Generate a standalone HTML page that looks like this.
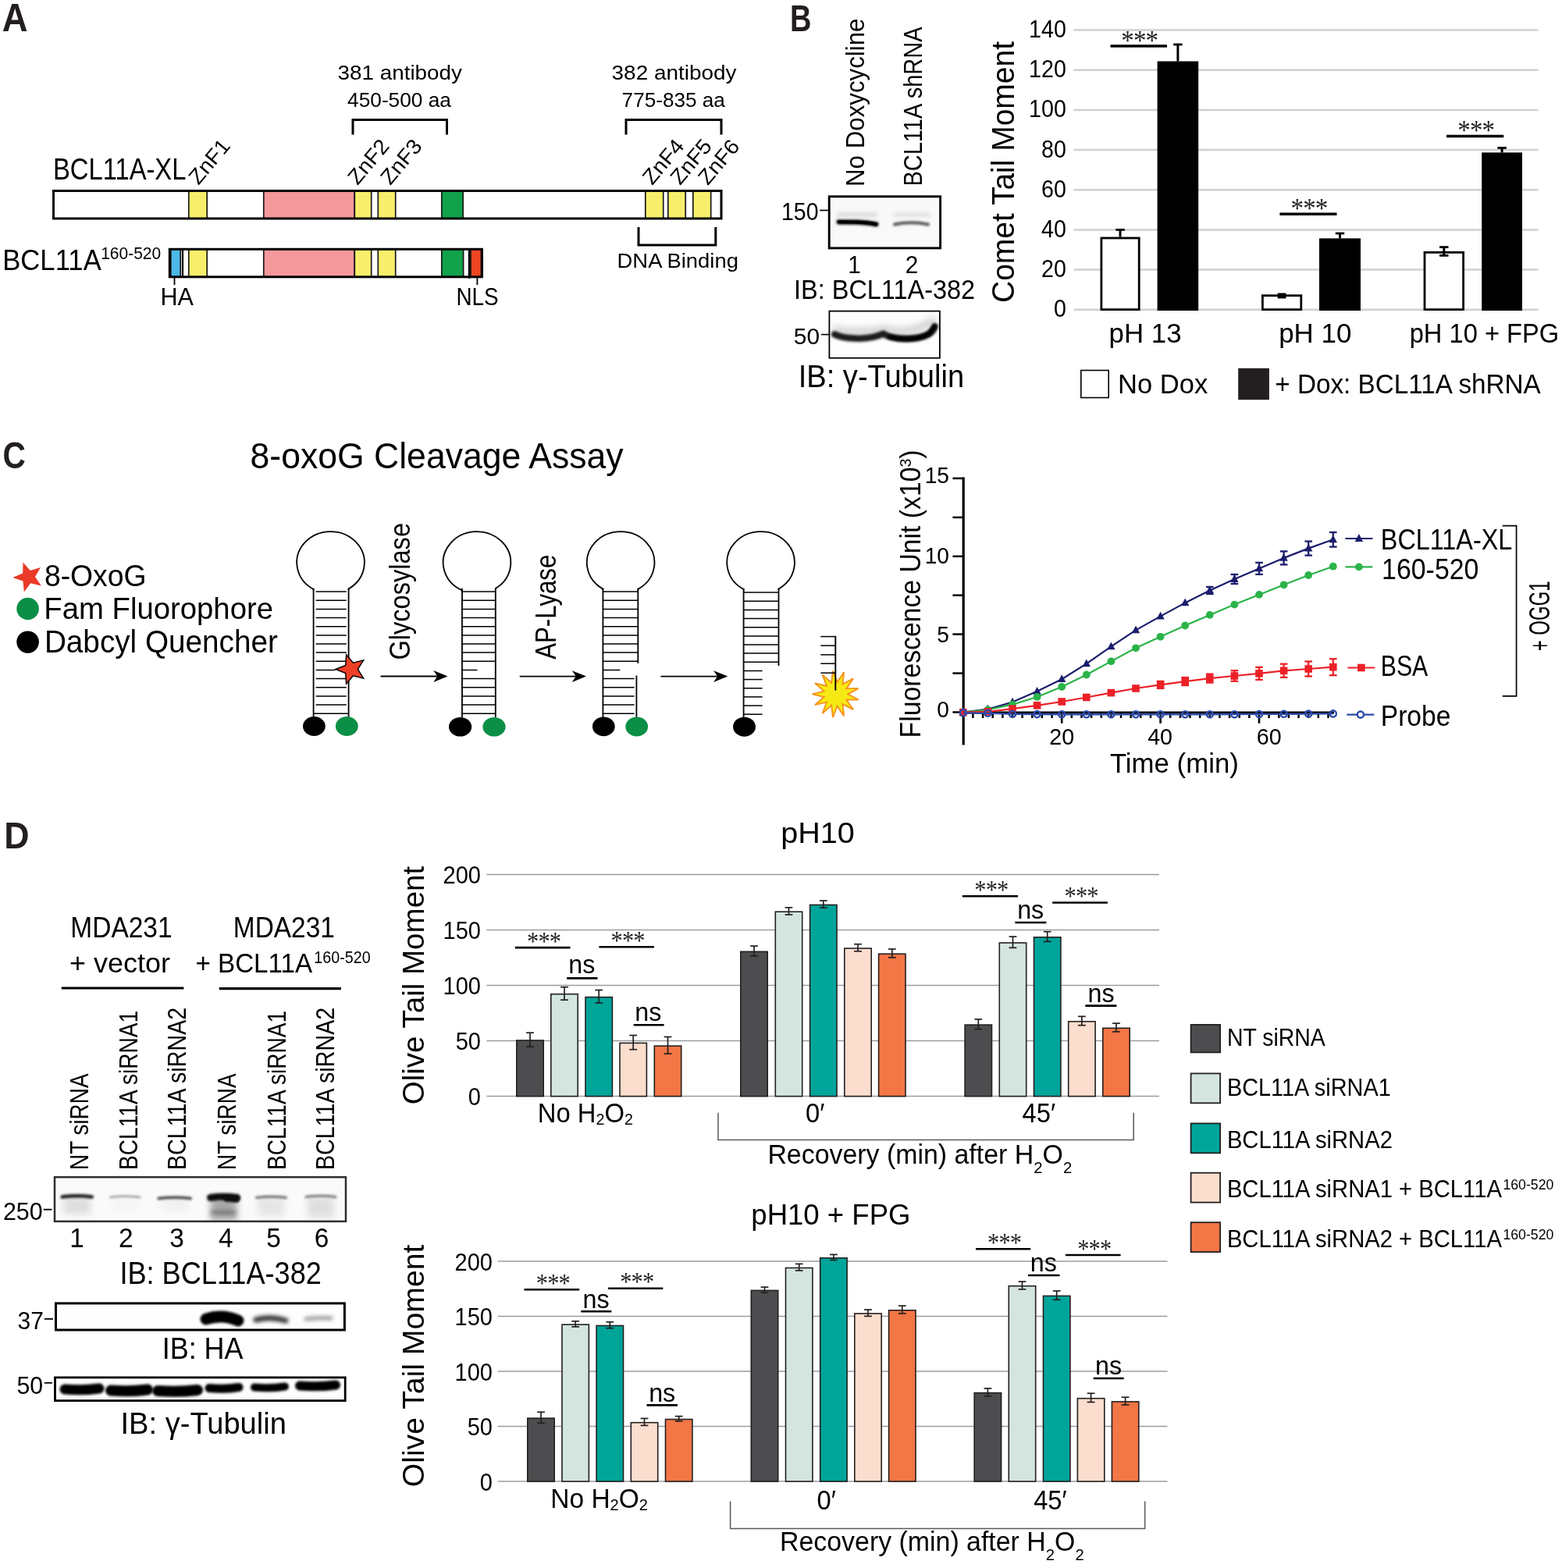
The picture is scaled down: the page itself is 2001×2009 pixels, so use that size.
<!DOCTYPE html>
<html lang="en"><head><meta charset="utf-8"><title>Figure</title>
<style>html,body{margin:0;padding:0;background:#fff}svg{display:block}text{font-family:"Liberation Sans",sans-serif}text.st{font-family:"Liberation Serif",serif}</style></head><body>
<svg width="2001" height="2009" viewBox="0 0 2001 2009">
<rect width="2001" height="2009" fill="#fff"/>
<g id="secA">
<text x="2.7" y="40.2" font-size="49.3" font-weight="bold" fill="#231f20" textLength="32.8" lengthAdjust="spacingAndGlyphs">A</text>
<text x="432.6" y="102.0" font-size="26.1" fill="#000" textLength="159.3" lengthAdjust="spacingAndGlyphs">381 antibody</text>
<text x="445.1" y="136.5" font-size="26.1" fill="#000" textLength="132.8" lengthAdjust="spacingAndGlyphs">450-500 aa</text>
<polyline points="452.0,172.5 452.0,153.5 572.5,153.5 572.5,172.5" fill="none" stroke="#000" stroke-width="3"/>
<text x="783.6" y="102.0" font-size="26.1" fill="#000" textLength="159.8" lengthAdjust="spacingAndGlyphs">382 antibody</text>
<text x="796.6" y="136.5" font-size="26.1" fill="#000" textLength="132.3" lengthAdjust="spacingAndGlyphs">775-835 aa</text>
<polyline points="802.0,172.5 802.0,153.5 924.0,153.5 924.0,172.5" fill="none" stroke="#000" stroke-width="3"/>
<rect x="68.5" y="244.5" width="855.5" height="35.5" fill="#fff" stroke="none" stroke-width="1"/>
<rect x="241.8" y="244.5" width="23.4" height="35.5" fill="#f7ef6b" stroke="#1a1718" stroke-width="1.7"/>
<rect x="337.8" y="244.5" width="116.5" height="35.5" fill="#f4989c" stroke="#1a1718" stroke-width="1.7"/>
<rect x="454.3" y="244.5" width="21.4" height="35.5" fill="#f7ef6b" stroke="#1a1718" stroke-width="1.7"/>
<rect x="484.3" y="244.5" width="22.4" height="35.5" fill="#f7ef6b" stroke="#1a1718" stroke-width="1.7"/>
<rect x="565.8" y="244.5" width="27.4" height="35.5" fill="#12a24b" stroke="#1a1718" stroke-width="1.7"/>
<rect x="826.8" y="244.5" width="22.9" height="35.5" fill="#f7ef6b" stroke="#1a1718" stroke-width="1.7"/>
<rect x="855.8" y="244.5" width="22.4" height="35.5" fill="#f7ef6b" stroke="#1a1718" stroke-width="1.7"/>
<rect x="887.8" y="244.5" width="22.9" height="35.5" fill="#f7ef6b" stroke="#1a1718" stroke-width="1.7"/>
<rect x="68.5" y="244.5" width="855.5" height="35.5" fill="none" stroke="#000" stroke-width="3"/>
<rect x="217.5" y="319.3" width="399.5" height="35.5" fill="#fff" stroke="none" stroke-width="1"/>
<rect x="218.8" y="319.3" width="12.4" height="35.5" fill="#4cb8e8" stroke="#1a1718" stroke-width="1.7"/>
<line x1="234.0" y1="319.3" x2="234.0" y2="354.8" stroke="#000" stroke-width="2.2" stroke-linecap="butt"/>
<rect x="241.8" y="319.3" width="23.4" height="35.5" fill="#f7ef6b" stroke="#1a1718" stroke-width="1.7"/>
<rect x="337.8" y="319.3" width="116.5" height="35.5" fill="#f4989c" stroke="#1a1718" stroke-width="1.7"/>
<rect x="454.3" y="319.3" width="21.4" height="35.5" fill="#f7ef6b" stroke="#1a1718" stroke-width="1.7"/>
<rect x="484.3" y="319.3" width="22.4" height="35.5" fill="#f7ef6b" stroke="#1a1718" stroke-width="1.7"/>
<rect x="565.8" y="319.3" width="27.8" height="35.5" fill="#12a24b" stroke="#1a1718" stroke-width="1.7"/>
<rect x="603.0" y="319.3" width="13.4" height="35.5" fill="#ee4623" stroke="#1a1718" stroke-width="1.7"/>
<line x1="601.2" y1="319.3" x2="601.2" y2="356.8" stroke="#000" stroke-width="2.8" stroke-linecap="butt"/>
<rect x="217.3" y="319.3" width="400.2" height="35.5" fill="none" stroke="#000" stroke-width="3"/>
<text x="68.0" y="230.2" font-size="38.0" fill="#000" textLength="170.4" lengthAdjust="spacingAndGlyphs">BCL11A-XL</text>
<text x="3.2" y="345.8" font-size="37.7" fill="#000" textLength="126.6" lengthAdjust="spacingAndGlyphs">BCL11A</text>
<text x="129.2" y="331.8" font-size="21.7" fill="#000" textLength="77.0" lengthAdjust="spacingAndGlyphs">160-520</text>
<line x1="223.5" y1="356.0" x2="223.5" y2="365.0" stroke="#000" stroke-width="1.8" stroke-linecap="butt"/>
<line x1="611.4" y1="356.0" x2="611.4" y2="365.0" stroke="#000" stroke-width="1.8" stroke-linecap="butt"/>
<text x="205.4" y="391.0" font-size="31.9" fill="#000" textLength="42.5" lengthAdjust="spacingAndGlyphs">HA</text>
<text x="584.4" y="391.0" font-size="31.9" fill="#000" textLength="54.2" lengthAdjust="spacingAndGlyphs">NLS</text>
<polyline points="818.0,291.0 818.0,314.0 916.8,314.0 916.8,291.0" fill="none" stroke="#000" stroke-width="3"/>
<text x="790.6" y="343.0" font-size="26.1" fill="#000" textLength="155.3" lengthAdjust="spacingAndGlyphs">DNA Binding</text>
<text transform="translate(254.3,238.0) rotate(-50)" font-size="27.2" textLength="65.5" lengthAdjust="spacingAndGlyphs">ZnF1</text>
<text transform="translate(458.0,238.2) rotate(-50)" font-size="27.2" textLength="65.5" lengthAdjust="spacingAndGlyphs">ZnF2</text>
<text transform="translate(500.0,238.2) rotate(-50)" font-size="27.2" textLength="65.5" lengthAdjust="spacingAndGlyphs">ZnF3</text>
<text transform="translate(835.6,238.2) rotate(-50)" font-size="27.2" textLength="65.5" lengthAdjust="spacingAndGlyphs">ZnF4</text>
<text transform="translate(871.3,238.2) rotate(-50)" font-size="27.2" textLength="65.5" lengthAdjust="spacingAndGlyphs">ZnF5</text>
<text transform="translate(906.7,238.5) rotate(-50)" font-size="27.2" textLength="65.5" lengthAdjust="spacingAndGlyphs">ZnF6</text>
</g>
<g id="secB">
<text x="1011.9" y="40.0" font-size="48.7" font-weight="bold" fill="#231f20" textLength="27.5" lengthAdjust="spacingAndGlyphs">B</text>
<text transform="translate(1107.0,239.0) rotate(-90)" font-size="33.3" fill="#000" textLength="215.5" lengthAdjust="spacingAndGlyphs">No Doxycycline</text>
<text transform="translate(1181.0,238.5) rotate(-90)" font-size="32.8" fill="#000" textLength="204.0" lengthAdjust="spacingAndGlyphs">BCL11A shRNA</text>
<clipPath id="cb1"><rect x="1062" y="251.5" width="142.5" height="66"/></clipPath>
<rect x="1062.0" y="251.5" width="142.5" height="66.0" fill="#f9f9f9" stroke="none" stroke-width="1"/>
<filter id="fa1" filterUnits="userSpaceOnUse" x="1040" y="230" width="190" height="110"><feGaussianBlur stdDeviation="0.7"/></filter>
<filter id="fa2" filterUnits="userSpaceOnUse" x="1040" y="230" width="190" height="110"><feGaussianBlur stdDeviation="1.5"/></filter>
<filter id="fa3" filterUnits="userSpaceOnUse" x="1040" y="230" width="190" height="110"><feGaussianBlur stdDeviation="2.5"/></filter>
<filter id="fa4" filterUnits="userSpaceOnUse" x="1040" y="230" width="190" height="110"><feGaussianBlur stdDeviation="4"/></filter>
<g clip-path="url(#cb1)">
<path d="M1074.5,284.3 L1098,284.6 Q1113,285.3 1122.5,287.4" stroke="#000" stroke-width="6.2" fill="none" stroke-linecap="round" filter="url(#fa2)"/>
<path d="M1075,284.3 L1098,284.6 Q1113,285.3 1122,287.4" stroke="#000" stroke-width="4" fill="none" stroke-linecap="round" filter="url(#fa1)"/>
<path d="M1146,287.5 Q1167,283 1189,287.5" stroke="#555" stroke-width="4" fill="none" stroke-linecap="round" filter="url(#fa2)"/>
<rect x="1072" y="272" width="52" height="6" fill="#ddd" filter="url(#fa3)"/>
<rect x="1144" y="272" width="48" height="6" fill="#e2e2e2" filter="url(#fa3)"/>
</g>
<rect x="1062.2" y="251.8" width="142.4" height="66.1" fill="none" stroke="#000" stroke-width="2.9"/>
<text x="1001.0" y="282.4" font-size="30.7" fill="#000" textLength="47.5" lengthAdjust="spacingAndGlyphs">150</text>
<line x1="1050.0" y1="269.5" x2="1061.0" y2="269.5" stroke="#000" stroke-width="1.7" stroke-linecap="butt"/>
<text transform="translate(1094.6,350.2) scale(0.95,1)" font-size="31.3" fill="#000" text-anchor="middle">1</text>
<text transform="translate(1168.0,350.2) scale(0.95,1)" font-size="31.3" fill="#000" text-anchor="middle">2</text>
<text x="1017.1" y="382.9" font-size="35.7" fill="#000" textLength="232.0" lengthAdjust="spacingAndGlyphs">IB: BCL11A-382</text>
<clipPath id="cb2"><rect x="1062.4" y="398.6" width="141.5" height="60"/></clipPath>
<rect x="1062.4" y="398.6" width="141.6" height="60.1" fill="#fdfdfd" stroke="none" stroke-width="1"/>
<filter id="fb1" filterUnits="userSpaceOnUse" x="1040" y="380" width="190" height="100"><feGaussianBlur stdDeviation="0.7"/></filter>
<filter id="fb2" filterUnits="userSpaceOnUse" x="1040" y="380" width="190" height="100"><feGaussianBlur stdDeviation="1.5"/></filter>
<filter id="fb3" filterUnits="userSpaceOnUse" x="1040" y="380" width="190" height="100"><feGaussianBlur stdDeviation="2.5"/></filter>
<filter id="fb4" filterUnits="userSpaceOnUse" x="1040" y="380" width="190" height="100"><feGaussianBlur stdDeviation="4"/></filter>
<g clip-path="url(#cb2)">
<path d="M1068,421 C1085,426 1115,426 1131,421 C1150,427 1180,425 1198,408" stroke="#ccc" stroke-width="8" fill="none" filter="url(#fb4)"/>
<path d="M1069,428.3 C1078,433.5 1110,437.5 1131.4,427.6 C1146,436.5 1176,435.5 1189.6,428 C1194,425.5 1196.5,422 1197.6,418" stroke="#1c1c1c" stroke-width="8.5" fill="none" stroke-linecap="round" stroke-linejoin="round" filter="url(#fb2)"/>
<path d="M1140,431.5 C1155,436 1178,435 1190,428 L1197,419" stroke="#000" stroke-width="6" fill="none" stroke-linecap="round" filter="url(#fb2)"/>
</g>
<rect x="1062.4" y="398.6" width="141.5" height="60.1" fill="none" stroke="#000" stroke-width="1.8"/>
<text x="1016.8" y="440.6" font-size="30.1" fill="#000" textLength="33.2" lengthAdjust="spacingAndGlyphs">50</text>
<line x1="1051.9" y1="428.6" x2="1062.0" y2="428.6" stroke="#000" stroke-width="1.6" stroke-linecap="butt"/>
<text x="1022.7" y="496.0" font-size="39.9" fill="#000" textLength="212.4" lengthAdjust="spacingAndGlyphs">IB: γ-Tubulin</text>
<text transform="translate(1299.0,388.0) rotate(-90)" font-size="40.9" fill="#000" textLength="335.0" lengthAdjust="spacingAndGlyphs">Comet Tail Moment</text>
<line x1="1375.5" y1="396.7" x2="1970.6" y2="396.7" stroke="#d0d0d0" stroke-width="2.5" stroke-linecap="butt"/>
<text transform="translate(1366,406.1) scale(0.92,1)" font-size="31.2" text-anchor="end">0</text>
<line x1="1375.5" y1="345.5" x2="1970.6" y2="345.5" stroke="#d0d0d0" stroke-width="2.5" stroke-linecap="butt"/>
<text transform="translate(1366,354.9) scale(0.92,1)" font-size="31.2" text-anchor="end">20</text>
<line x1="1375.5" y1="294.4" x2="1970.6" y2="294.4" stroke="#d0d0d0" stroke-width="2.5" stroke-linecap="butt"/>
<text transform="translate(1366,303.8) scale(0.92,1)" font-size="31.2" text-anchor="end">40</text>
<line x1="1375.5" y1="243.2" x2="1970.6" y2="243.2" stroke="#d0d0d0" stroke-width="2.5" stroke-linecap="butt"/>
<text transform="translate(1366,252.6) scale(0.92,1)" font-size="31.2" text-anchor="end">60</text>
<line x1="1375.5" y1="192.1" x2="1970.6" y2="192.1" stroke="#d0d0d0" stroke-width="2.5" stroke-linecap="butt"/>
<text transform="translate(1366,201.5) scale(0.92,1)" font-size="31.2" text-anchor="end">80</text>
<line x1="1375.5" y1="140.9" x2="1970.6" y2="140.9" stroke="#d0d0d0" stroke-width="2.5" stroke-linecap="butt"/>
<text transform="translate(1366,150.3) scale(0.92,1)" font-size="31.2" text-anchor="end">100</text>
<line x1="1375.5" y1="89.7" x2="1970.6" y2="89.7" stroke="#d0d0d0" stroke-width="2.5" stroke-linecap="butt"/>
<text transform="translate(1366,99.1) scale(0.92,1)" font-size="31.2" text-anchor="end">120</text>
<line x1="1375.5" y1="38.6" x2="1970.6" y2="38.6" stroke="#d0d0d0" stroke-width="2.5" stroke-linecap="butt"/>
<text transform="translate(1366,48.0) scale(0.92,1)" font-size="31.2" text-anchor="end">140</text>
<rect x="1410.9" y="305.0" width="48.3" height="91.6" fill="#fff" stroke="#000" stroke-width="2.8"/>
<line x1="1435.0" y1="303.6" x2="1435.0" y2="294.4" stroke="#000" stroke-width="3" stroke-linecap="butt"/>
<line x1="1429.3" y1="294.4" x2="1440.8" y2="294.4" stroke="#000" stroke-width="2.8" stroke-linecap="butt"/>
<rect x="1482.6" y="78.5" width="52.6" height="319.5" fill="#000" stroke="none" stroke-width="1"/>
<line x1="1508.9" y1="78.5" x2="1508.9" y2="57.0" stroke="#000" stroke-width="3" stroke-linecap="butt"/>
<line x1="1503.2" y1="57.0" x2="1514.6" y2="57.0" stroke="#000" stroke-width="2.8" stroke-linecap="butt"/>
<rect x="1617.4" y="378.7" width="49.4" height="17.9" fill="#fff" stroke="#000" stroke-width="2.8"/>
<rect x="1636.7" y="375.5" width="10.8" height="6.9" fill="#000" stroke="none" stroke-width="1"/>
<rect x="1690.0" y="305.4" width="53.0" height="92.6" fill="#000" stroke="none" stroke-width="1"/>
<line x1="1716.5" y1="305.4" x2="1716.5" y2="299.0" stroke="#000" stroke-width="3" stroke-linecap="butt"/>
<line x1="1710.8" y1="299.0" x2="1722.2" y2="299.0" stroke="#000" stroke-width="2.8" stroke-linecap="butt"/>
<rect x="1825.0" y="323.4" width="49.6" height="73.2" fill="#fff" stroke="#000" stroke-width="2.8"/>
<line x1="1849.8" y1="327.4" x2="1849.8" y2="316.6" stroke="#000" stroke-width="3" stroke-linecap="butt"/>
<line x1="1844.1" y1="316.6" x2="1855.5" y2="316.6" stroke="#000" stroke-width="2.8" stroke-linecap="butt"/>
<line x1="1844.1" y1="327.4" x2="1855.5" y2="327.4" stroke="#000" stroke-width="2.8" stroke-linecap="butt"/>
<rect x="1898.2" y="195.4" width="51.8" height="202.6" fill="#000" stroke="none" stroke-width="1"/>
<line x1="1924.1" y1="195.4" x2="1924.1" y2="189.5" stroke="#000" stroke-width="3" stroke-linecap="butt"/>
<line x1="1918.4" y1="189.5" x2="1929.8" y2="189.5" stroke="#000" stroke-width="2.8" stroke-linecap="butt"/>
<line x1="1422.5" y1="59.0" x2="1495.0" y2="59.0" stroke="#000" stroke-width="3.4" stroke-linecap="butt"/>
<text transform="translate(1459.8,63.8) scale(0.92,1.0)" class="st" font-size="36" text-anchor="middle" fill="#231f20" letter-spacing="-1">***</text>
<line x1="1639.4" y1="274.2" x2="1712.5" y2="274.2" stroke="#000" stroke-width="3.4" stroke-linecap="butt"/>
<text transform="translate(1677.0,279.0) scale(0.92,1.0)" class="st" font-size="36" text-anchor="middle" fill="#231f20" letter-spacing="-1">***</text>
<line x1="1853.0" y1="174.5" x2="1926.3" y2="174.5" stroke="#000" stroke-width="3.4" stroke-linecap="butt"/>
<text transform="translate(1890.7,179.3) scale(0.92,1.0)" class="st" font-size="36" text-anchor="middle" fill="#231f20" letter-spacing="-1">***</text>
<text x="1420.6" y="439.2" font-size="35.5" fill="#000" textLength="93.0" lengthAdjust="spacingAndGlyphs">pH 13</text>
<text x="1638.2" y="439.2" font-size="35.5" fill="#000" textLength="93.1" lengthAdjust="spacingAndGlyphs">pH 10</text>
<text x="1805.7" y="439.2" font-size="35.5" fill="#000" textLength="191.6" lengthAdjust="spacingAndGlyphs">pH 10 + FPG</text>
<rect x="1384.8" y="474.5" width="35.4" height="35.0" fill="#fff" stroke="#000" stroke-width="1.6"/>
<text x="1432.1" y="504.3" font-size="35.1" fill="#000" textLength="115.2" lengthAdjust="spacingAndGlyphs">No Dox</text>
<rect x="1586.2" y="471.8" width="39.7" height="40.4" fill="#231f20" stroke="none" stroke-width="1"/>
<text x="1633.3" y="504.3" font-size="35.1" fill="#000" textLength="340.5" lengthAdjust="spacingAndGlyphs">+ Dox: BCL11A shRNA</text>
</g>
<g id="secC">
<text x="3.5" y="599.6" font-size="47.8" font-weight="bold" fill="#231f20" textLength="29.3" lengthAdjust="spacingAndGlyphs">C</text>
<text x="320.6" y="599.5" font-size="47.1" fill="#000" textLength="477.9" lengthAdjust="spacingAndGlyphs">8-oxoG Cleavage Assay</text>
<polygon points="16.3,739.9 29.2,734.4 29.5,720.4 38.7,730.9 52.1,726.9 44.9,738.9 52.9,750.4 39.2,747.3 30.8,758.4 29.5,744.5" fill="#ea3a28" stroke="none" stroke-width="1"/>
<text x="56.9" y="750.6" font-size="39.3" fill="#000" textLength="130.7" lengthAdjust="spacingAndGlyphs">8-OxoG</text>
<ellipse cx="35.6" cy="780" rx="14.3" ry="14.2" fill="#0b8f47"/>
<text x="56.3" y="792.9" font-size="39.4" fill="#000" textLength="293.7" lengthAdjust="spacingAndGlyphs">Fam Fluorophore</text>
<ellipse cx="35.6" cy="822.6" rx="14.3" ry="14.2" fill="#000"/>
<text x="56.9" y="835.9" font-size="39.9" fill="#000" textLength="299.0" lengthAdjust="spacingAndGlyphs">Dabcyl Quencher</text>
<path d="M401.6,756.5 L401.6,755.0 A43.3,39.7 0 1 1 446.6,754.4 L446.6,755.9" fill="none" stroke="#000" stroke-width="1.8"/>
<line x1="401.6" y1="753.8" x2="401.6" y2="919.0" stroke="#000" stroke-width="1.8" stroke-linecap="butt"/>
<line x1="446.6" y1="753.8" x2="446.6" y2="919.0" stroke="#000" stroke-width="1.8" stroke-linecap="butt"/>
<line x1="404.6" y1="758.1" x2="443.8" y2="758.1" stroke="#000" stroke-width="1.5" stroke-linecap="butt"/>
<line x1="404.6" y1="769.2" x2="443.8" y2="769.2" stroke="#000" stroke-width="1.5" stroke-linecap="butt"/>
<line x1="404.6" y1="780.4" x2="443.8" y2="780.4" stroke="#000" stroke-width="1.5" stroke-linecap="butt"/>
<line x1="404.6" y1="791.6" x2="443.8" y2="791.6" stroke="#000" stroke-width="1.5" stroke-linecap="butt"/>
<line x1="404.6" y1="802.7" x2="443.8" y2="802.7" stroke="#000" stroke-width="1.5" stroke-linecap="butt"/>
<line x1="404.6" y1="813.9" x2="443.8" y2="813.9" stroke="#000" stroke-width="1.5" stroke-linecap="butt"/>
<line x1="404.6" y1="825.0" x2="443.8" y2="825.0" stroke="#000" stroke-width="1.5" stroke-linecap="butt"/>
<line x1="404.6" y1="836.1" x2="443.8" y2="836.1" stroke="#000" stroke-width="1.5" stroke-linecap="butt"/>
<line x1="404.6" y1="847.3" x2="443.8" y2="847.3" stroke="#000" stroke-width="1.5" stroke-linecap="butt"/>
<line x1="404.6" y1="858.5" x2="429.6" y2="858.5" stroke="#000" stroke-width="1.5" stroke-linecap="butt"/>
<line x1="404.6" y1="869.6" x2="443.8" y2="869.6" stroke="#000" stroke-width="1.5" stroke-linecap="butt"/>
<line x1="404.6" y1="880.8" x2="443.8" y2="880.8" stroke="#000" stroke-width="1.5" stroke-linecap="butt"/>
<line x1="404.6" y1="891.9" x2="443.8" y2="891.9" stroke="#000" stroke-width="1.5" stroke-linecap="butt"/>
<line x1="404.6" y1="903.1" x2="443.8" y2="903.1" stroke="#000" stroke-width="1.5" stroke-linecap="butt"/>
<line x1="401.6" y1="914.2" x2="446.6" y2="914.2" stroke="#000" stroke-width="1.5" stroke-linecap="butt"/>
<polygon points="429.9,857.5 442.7,852.4 443.6,838.7 452.4,849.3 465.7,845.9 458.3,857.5 465.7,869.1 452.4,865.7 443.6,876.3 442.7,862.6" fill="#ee3f27" stroke="#000" stroke-width="1.4"/>
<ellipse cx="402.4" cy="930.5" rx="14.4" ry="12.4" fill="#000"/><ellipse cx="444.3" cy="930.5" rx="14.4" ry="12.4" fill="#0b8f47"/>
<text transform="translate(524.6,845.6) rotate(-90)" font-size="37.1" fill="#000" textLength="175.6" lengthAdjust="spacingAndGlyphs">Glycosylase</text>
<line x1="487.6" y1="866.5" x2="563.5" y2="866.5" stroke="#000" stroke-width="1.9" stroke-linecap="butt"/>
<polygon points="573.5,866.5 555.3,859.1 560.3,866.5 555.3,873.9" fill="#000"/>
<path d="M592.0,758.0 L592.0,756.5 A43.3,39.7 0 1 1 634.8,754.0 L634.8,755.5" fill="none" stroke="#000" stroke-width="1.8"/>
<line x1="592.0" y1="753.8" x2="592.0" y2="919.0" stroke="#000" stroke-width="1.8" stroke-linecap="butt"/>
<line x1="634.8" y1="753.8" x2="634.8" y2="919.0" stroke="#000" stroke-width="1.8" stroke-linecap="butt"/>
<line x1="590.8" y1="758.1" x2="634.8" y2="758.1" stroke="#000" stroke-width="1.5" stroke-linecap="butt"/>
<line x1="590.8" y1="769.2" x2="634.8" y2="769.2" stroke="#000" stroke-width="1.5" stroke-linecap="butt"/>
<line x1="590.8" y1="780.4" x2="634.8" y2="780.4" stroke="#000" stroke-width="1.5" stroke-linecap="butt"/>
<line x1="590.8" y1="791.6" x2="634.8" y2="791.6" stroke="#000" stroke-width="1.5" stroke-linecap="butt"/>
<line x1="590.8" y1="802.7" x2="634.8" y2="802.7" stroke="#000" stroke-width="1.5" stroke-linecap="butt"/>
<line x1="590.8" y1="813.9" x2="634.8" y2="813.9" stroke="#000" stroke-width="1.5" stroke-linecap="butt"/>
<line x1="590.8" y1="825.0" x2="634.8" y2="825.0" stroke="#000" stroke-width="1.5" stroke-linecap="butt"/>
<line x1="590.8" y1="836.1" x2="634.8" y2="836.1" stroke="#000" stroke-width="1.5" stroke-linecap="butt"/>
<line x1="590.8" y1="847.3" x2="634.8" y2="847.3" stroke="#000" stroke-width="1.5" stroke-linecap="butt"/>
<line x1="590.8" y1="858.5" x2="611.5" y2="858.5" stroke="#000" stroke-width="1.5" stroke-linecap="butt"/>
<line x1="590.8" y1="869.6" x2="634.8" y2="869.6" stroke="#000" stroke-width="1.5" stroke-linecap="butt"/>
<line x1="590.8" y1="880.8" x2="634.8" y2="880.8" stroke="#000" stroke-width="1.5" stroke-linecap="butt"/>
<line x1="590.8" y1="891.9" x2="634.8" y2="891.9" stroke="#000" stroke-width="1.5" stroke-linecap="butt"/>
<line x1="590.8" y1="903.1" x2="634.8" y2="903.1" stroke="#000" stroke-width="1.5" stroke-linecap="butt"/>
<line x1="590.8" y1="914.2" x2="634.8" y2="914.2" stroke="#000" stroke-width="1.5" stroke-linecap="butt"/>
<ellipse cx="589.6" cy="931.3" rx="14.6" ry="12.3" fill="#000"/><ellipse cx="633" cy="931.3" rx="14.6" ry="12.3" fill="#0b8f47"/>
<text transform="translate(711.6,844.8) rotate(-90)" font-size="36.2" fill="#000" textLength="134.1" lengthAdjust="spacingAndGlyphs">AP-Lyase</text>
<line x1="665.7" y1="866.6" x2="741.0" y2="866.6" stroke="#000" stroke-width="1.9" stroke-linecap="butt"/>
<polygon points="751.0,866.6 732.8,859.2 737.8,866.6 732.8,874.0" fill="#000"/>
<path d="M772.4,756.1 L772.4,754.6 A43.3,39.7 0 1 1 817.3,754.9 L817.3,756.4" fill="none" stroke="#000" stroke-width="1.8"/>
<line x1="772.4" y1="753.8" x2="772.4" y2="919.0" stroke="#000" stroke-width="1.8" stroke-linecap="butt"/>
<line x1="817.3" y1="753.8" x2="817.3" y2="849.8" stroke="#000" stroke-width="1.8" stroke-linecap="butt"/>
<line x1="815.4" y1="865.5" x2="815.4" y2="919.0" stroke="#000" stroke-width="1.8" stroke-linecap="butt"/>
<line x1="772.4" y1="758.1" x2="817.3" y2="758.1" stroke="#000" stroke-width="1.5" stroke-linecap="butt"/>
<line x1="772.4" y1="769.2" x2="817.3" y2="769.2" stroke="#000" stroke-width="1.5" stroke-linecap="butt"/>
<line x1="772.4" y1="780.4" x2="817.3" y2="780.4" stroke="#000" stroke-width="1.5" stroke-linecap="butt"/>
<line x1="772.4" y1="791.6" x2="817.3" y2="791.6" stroke="#000" stroke-width="1.5" stroke-linecap="butt"/>
<line x1="772.4" y1="802.7" x2="817.3" y2="802.7" stroke="#000" stroke-width="1.5" stroke-linecap="butt"/>
<line x1="772.4" y1="813.9" x2="817.3" y2="813.9" stroke="#000" stroke-width="1.5" stroke-linecap="butt"/>
<line x1="772.4" y1="825.0" x2="817.3" y2="825.0" stroke="#000" stroke-width="1.5" stroke-linecap="butt"/>
<line x1="772.4" y1="836.1" x2="817.3" y2="836.1" stroke="#000" stroke-width="1.5" stroke-linecap="butt"/>
<line x1="772.4" y1="847.3" x2="817.3" y2="847.3" stroke="#000" stroke-width="1.5" stroke-linecap="butt"/>
<line x1="772.4" y1="858.5" x2="794.4" y2="858.5" stroke="#000" stroke-width="1.5" stroke-linecap="butt"/>
<line x1="772.4" y1="869.6" x2="812.6" y2="869.6" stroke="#000" stroke-width="1.5" stroke-linecap="butt"/>
<line x1="772.4" y1="880.8" x2="812.6" y2="880.8" stroke="#000" stroke-width="1.5" stroke-linecap="butt"/>
<line x1="772.4" y1="891.9" x2="812.6" y2="891.9" stroke="#000" stroke-width="1.5" stroke-linecap="butt"/>
<line x1="772.4" y1="903.1" x2="812.6" y2="903.1" stroke="#000" stroke-width="1.5" stroke-linecap="butt"/>
<line x1="772.4" y1="914.2" x2="812.6" y2="914.2" stroke="#000" stroke-width="1.5" stroke-linecap="butt"/>
<ellipse cx="773.3" cy="930.8" rx="14.4" ry="12.4" fill="#000"/><ellipse cx="815.7" cy="931" rx="14.4" ry="12.4" fill="#0b8f47"/>
<line x1="846.5" y1="866.6" x2="922.3" y2="866.6" stroke="#000" stroke-width="1.9" stroke-linecap="butt"/>
<polygon points="932.3,866.6 914.1,859.2 919.1,866.6 914.1,874.0" fill="#000"/>
<path d="M952.6,756.5 L952.6,755.0 A43.3,39.7 0 1 1 997.5,754.5 L997.5,756.0" fill="none" stroke="#000" stroke-width="1.8"/>
<line x1="952.6" y1="753.8" x2="952.6" y2="919.0" stroke="#000" stroke-width="1.8" stroke-linecap="butt"/>
<line x1="997.5" y1="753.8" x2="997.5" y2="853.0" stroke="#000" stroke-width="1.8" stroke-linecap="butt"/>
<line x1="952.6" y1="759.1" x2="997.5" y2="759.1" stroke="#000" stroke-width="1.5" stroke-linecap="butt"/>
<line x1="952.6" y1="770.2" x2="997.5" y2="770.2" stroke="#000" stroke-width="1.5" stroke-linecap="butt"/>
<line x1="952.6" y1="781.4" x2="997.5" y2="781.4" stroke="#000" stroke-width="1.5" stroke-linecap="butt"/>
<line x1="952.6" y1="792.6" x2="997.5" y2="792.6" stroke="#000" stroke-width="1.5" stroke-linecap="butt"/>
<line x1="952.6" y1="803.7" x2="997.5" y2="803.7" stroke="#000" stroke-width="1.5" stroke-linecap="butt"/>
<line x1="952.6" y1="814.9" x2="997.5" y2="814.9" stroke="#000" stroke-width="1.5" stroke-linecap="butt"/>
<line x1="952.6" y1="826.0" x2="997.5" y2="826.0" stroke="#000" stroke-width="1.5" stroke-linecap="butt"/>
<line x1="952.6" y1="837.1" x2="997.5" y2="837.1" stroke="#000" stroke-width="1.5" stroke-linecap="butt"/>
<line x1="952.6" y1="848.3" x2="997.5" y2="848.3" stroke="#000" stroke-width="1.5" stroke-linecap="butt"/>
<line x1="952.6" y1="859.5" x2="976.6" y2="859.5" stroke="#000" stroke-width="1.5" stroke-linecap="butt"/>
<line x1="952.6" y1="870.6" x2="976.6" y2="870.6" stroke="#000" stroke-width="1.5" stroke-linecap="butt"/>
<line x1="952.6" y1="881.8" x2="976.6" y2="881.8" stroke="#000" stroke-width="1.5" stroke-linecap="butt"/>
<line x1="952.6" y1="892.9" x2="976.6" y2="892.9" stroke="#000" stroke-width="1.5" stroke-linecap="butt"/>
<line x1="952.6" y1="904.1" x2="976.6" y2="904.1" stroke="#000" stroke-width="1.5" stroke-linecap="butt"/>
<line x1="952.6" y1="915.2" x2="976.6" y2="915.2" stroke="#000" stroke-width="1.5" stroke-linecap="butt"/>
<ellipse cx="953.5" cy="931.2" rx="14.4" ry="12.5" fill="#000"/>
<polygon points="1040.6,889.3 1055.6,885.6 1044.0,875.4 1059.0,879.0 1053.6,864.6 1065.1,874.8 1067.0,859.5 1072.5,873.9 1081.2,861.2 1079.4,876.5 1093.1,869.4 1084.3,882.1 1099.7,882.1 1086.1,889.3 1099.7,896.5 1084.3,896.5 1093.1,909.2 1079.4,902.1 1081.2,917.4 1072.5,904.7 1067.0,919.1 1065.1,903.8 1053.6,914.0 1059.0,899.6 1044.0,903.2 1055.6,893.0" fill="#f6ea14" stroke="#f7931e" stroke-width="1.9" stroke-linejoin="miter"/>
<line x1="1070.3" y1="814.8" x2="1070.3" y2="884.6" stroke="#000" stroke-width="1.9" stroke-linecap="butt"/>
<line x1="1051.3" y1="815.6" x2="1070.3" y2="815.6" stroke="#000" stroke-width="1.5" stroke-linecap="butt"/>
<line x1="1051.3" y1="827.2" x2="1070.3" y2="827.2" stroke="#000" stroke-width="1.5" stroke-linecap="butt"/>
<line x1="1051.3" y1="838.9" x2="1070.3" y2="838.9" stroke="#000" stroke-width="1.5" stroke-linecap="butt"/>
<line x1="1051.3" y1="850.2" x2="1070.3" y2="850.2" stroke="#000" stroke-width="1.5" stroke-linecap="butt"/>
<line x1="1051.3" y1="862.2" x2="1070.3" y2="862.2" stroke="#000" stroke-width="1.5" stroke-linecap="butt"/>
</g>
<g id="chartC">
<line x1="1234.2" y1="611.4" x2="1234.2" y2="954.5" stroke="#000" stroke-width="3.2" stroke-linecap="butt"/>
<line x1="1233.0" y1="913.0" x2="1709.0" y2="913.0" stroke="#000" stroke-width="3" stroke-linecap="butt"/>
<line x1="1220.4" y1="912.5" x2="1234.3" y2="912.5" stroke="#000" stroke-width="2.5" stroke-linecap="butt"/>
<line x1="1220.4" y1="862.6" x2="1234.3" y2="862.6" stroke="#000" stroke-width="2.5" stroke-linecap="butt"/>
<line x1="1220.4" y1="812.6" x2="1234.3" y2="812.6" stroke="#000" stroke-width="2.5" stroke-linecap="butt"/>
<line x1="1220.4" y1="762.7" x2="1234.3" y2="762.7" stroke="#000" stroke-width="2.5" stroke-linecap="butt"/>
<line x1="1220.4" y1="712.8" x2="1234.3" y2="712.8" stroke="#000" stroke-width="2.5" stroke-linecap="butt"/>
<line x1="1220.4" y1="662.9" x2="1234.3" y2="662.9" stroke="#000" stroke-width="2.5" stroke-linecap="butt"/>
<line x1="1220.4" y1="612.9" x2="1234.3" y2="612.9" stroke="#000" stroke-width="2.5" stroke-linecap="butt"/>
<line x1="1246.4" y1="913.0" x2="1246.4" y2="920.0" stroke="#000" stroke-width="2.5" stroke-linecap="butt"/>
<line x1="1259.1" y1="913.0" x2="1259.1" y2="920.0" stroke="#000" stroke-width="2.5" stroke-linecap="butt"/>
<line x1="1271.7" y1="913.0" x2="1271.7" y2="920.0" stroke="#000" stroke-width="2.5" stroke-linecap="butt"/>
<line x1="1284.4" y1="913.0" x2="1284.4" y2="920.0" stroke="#000" stroke-width="2.5" stroke-linecap="butt"/>
<line x1="1297.0" y1="913.0" x2="1297.0" y2="920.0" stroke="#000" stroke-width="2.5" stroke-linecap="butt"/>
<line x1="1309.6" y1="913.0" x2="1309.6" y2="920.0" stroke="#000" stroke-width="2.5" stroke-linecap="butt"/>
<line x1="1322.3" y1="913.0" x2="1322.3" y2="920.0" stroke="#000" stroke-width="2.5" stroke-linecap="butt"/>
<line x1="1334.9" y1="913.0" x2="1334.9" y2="920.0" stroke="#000" stroke-width="2.5" stroke-linecap="butt"/>
<line x1="1347.6" y1="913.0" x2="1347.6" y2="920.0" stroke="#000" stroke-width="2.5" stroke-linecap="butt"/>
<line x1="1360.2" y1="913.0" x2="1360.2" y2="926.8" stroke="#000" stroke-width="2.6" stroke-linecap="butt"/>
<line x1="1372.8" y1="913.0" x2="1372.8" y2="920.0" stroke="#000" stroke-width="2.5" stroke-linecap="butt"/>
<line x1="1385.5" y1="913.0" x2="1385.5" y2="920.0" stroke="#000" stroke-width="2.5" stroke-linecap="butt"/>
<line x1="1398.1" y1="913.0" x2="1398.1" y2="920.0" stroke="#000" stroke-width="2.5" stroke-linecap="butt"/>
<line x1="1410.8" y1="913.0" x2="1410.8" y2="920.0" stroke="#000" stroke-width="2.5" stroke-linecap="butt"/>
<line x1="1423.4" y1="913.0" x2="1423.4" y2="920.0" stroke="#000" stroke-width="2.5" stroke-linecap="butt"/>
<line x1="1436.0" y1="913.0" x2="1436.0" y2="920.0" stroke="#000" stroke-width="2.5" stroke-linecap="butt"/>
<line x1="1448.7" y1="913.0" x2="1448.7" y2="920.0" stroke="#000" stroke-width="2.5" stroke-linecap="butt"/>
<line x1="1461.3" y1="913.0" x2="1461.3" y2="920.0" stroke="#000" stroke-width="2.5" stroke-linecap="butt"/>
<line x1="1474.0" y1="913.0" x2="1474.0" y2="920.0" stroke="#000" stroke-width="2.5" stroke-linecap="butt"/>
<line x1="1486.6" y1="913.0" x2="1486.6" y2="926.8" stroke="#000" stroke-width="2.6" stroke-linecap="butt"/>
<line x1="1499.2" y1="913.0" x2="1499.2" y2="920.0" stroke="#000" stroke-width="2.5" stroke-linecap="butt"/>
<line x1="1511.9" y1="913.0" x2="1511.9" y2="920.0" stroke="#000" stroke-width="2.5" stroke-linecap="butt"/>
<line x1="1524.5" y1="913.0" x2="1524.5" y2="920.0" stroke="#000" stroke-width="2.5" stroke-linecap="butt"/>
<line x1="1537.2" y1="913.0" x2="1537.2" y2="920.0" stroke="#000" stroke-width="2.5" stroke-linecap="butt"/>
<line x1="1549.8" y1="913.0" x2="1549.8" y2="920.0" stroke="#000" stroke-width="2.5" stroke-linecap="butt"/>
<line x1="1562.4" y1="913.0" x2="1562.4" y2="920.0" stroke="#000" stroke-width="2.5" stroke-linecap="butt"/>
<line x1="1575.1" y1="913.0" x2="1575.1" y2="920.0" stroke="#000" stroke-width="2.5" stroke-linecap="butt"/>
<line x1="1587.7" y1="913.0" x2="1587.7" y2="920.0" stroke="#000" stroke-width="2.5" stroke-linecap="butt"/>
<line x1="1600.4" y1="913.0" x2="1600.4" y2="920.0" stroke="#000" stroke-width="2.5" stroke-linecap="butt"/>
<line x1="1613.0" y1="913.0" x2="1613.0" y2="926.8" stroke="#000" stroke-width="2.6" stroke-linecap="butt"/>
<line x1="1625.6" y1="913.0" x2="1625.6" y2="920.0" stroke="#000" stroke-width="2.5" stroke-linecap="butt"/>
<line x1="1638.3" y1="913.0" x2="1638.3" y2="920.0" stroke="#000" stroke-width="2.5" stroke-linecap="butt"/>
<line x1="1650.9" y1="913.0" x2="1650.9" y2="920.0" stroke="#000" stroke-width="2.5" stroke-linecap="butt"/>
<line x1="1663.6" y1="913.0" x2="1663.6" y2="920.0" stroke="#000" stroke-width="2.5" stroke-linecap="butt"/>
<line x1="1676.2" y1="913.0" x2="1676.2" y2="920.0" stroke="#000" stroke-width="2.5" stroke-linecap="butt"/>
<line x1="1688.8" y1="913.0" x2="1688.8" y2="920.0" stroke="#000" stroke-width="2.5" stroke-linecap="butt"/>
<line x1="1701.5" y1="913.0" x2="1701.5" y2="920.0" stroke="#000" stroke-width="2.5" stroke-linecap="butt"/>
<text transform="translate(1216,618.5) scale(0.95,1)" font-size="29.6" text-anchor="end">15</text>
<text transform="translate(1216,722.2) scale(0.95,1)" font-size="29.6" text-anchor="end">10</text>
<text transform="translate(1216,823.2) scale(0.95,1)" font-size="29.6" text-anchor="end">5</text>
<text transform="translate(1216,918.8) scale(0.95,1)" font-size="29.6" text-anchor="end">0</text>
<text transform="translate(1360.3,953.8) scale(0.97,1)" font-size="29.6" text-anchor="middle">20</text>
<text transform="translate(1486.1,953.8) scale(0.97,1)" font-size="29.6" text-anchor="middle">40</text>
<text transform="translate(1625.7,953.8) scale(0.97,1)" font-size="29.6" text-anchor="middle">60</text>
<text x="1421.9" y="989.9" font-size="34.8" fill="#000" textLength="165.0" lengthAdjust="spacingAndGlyphs">Time (min)</text>
<text transform="translate(1179,945.4) rotate(-90)" font-size="36.2" textLength="369" lengthAdjust="spacingAndGlyphs">Fluorescence Unit (x10<tspan font-size="21.0" dy="-12">3</tspan><tspan dy="12">)</tspan></text>
<polyline points="1233.8,912.7 1265.4,908.6 1297.0,899.6 1328.6,885.8 1360.2,870.2 1391.8,850.4 1423.4,828.4 1455.0,807.4 1486.6,789.6 1518.2,772.4 1549.8,756.5 1581.4,742.0 1613.0,728.4 1644.6,714.9 1676.2,702.6 1707.8,691.3" fill="none" stroke="#1b1c6c" stroke-width="2.2" stroke-linejoin="round"/>
<polygon points="1233.8,906.8 1228.6,916.6 1239.0,916.6" fill="#1b1c6c"/>
<polygon points="1265.4,902.7 1260.2,912.5 1270.6,912.5" fill="#1b1c6c"/>
<polygon points="1297.0,893.7 1291.8,903.5 1302.2,903.5" fill="#1b1c6c"/>
<polygon points="1328.6,879.9 1323.4,889.7 1333.8,889.7" fill="#1b1c6c"/>
<polygon points="1360.2,864.3 1355.0,874.1 1365.4,874.1" fill="#1b1c6c"/>
<polygon points="1391.8,844.5 1386.6,854.3 1397.0,854.3" fill="#1b1c6c"/>
<polygon points="1423.4,822.5 1418.2,832.3 1428.6,832.3" fill="#1b1c6c"/>
<polygon points="1455.0,801.5 1449.8,811.3 1460.2,811.3" fill="#1b1c6c"/>
<polygon points="1486.6,783.7 1481.4,793.5 1491.8,793.5" fill="#1b1c6c"/>
<polygon points="1518.2,766.5 1513.0,776.3 1523.4,776.3" fill="#1b1c6c"/>
<line x1="1549.8" y1="752.0" x2="1549.8" y2="761.0" stroke="#1b1c6c" stroke-width="2.3" stroke-linecap="butt"/>
<line x1="1545.0" y1="752.0" x2="1554.6" y2="752.0" stroke="#1b1c6c" stroke-width="2.3" stroke-linecap="butt"/>
<line x1="1545.0" y1="761.0" x2="1554.6" y2="761.0" stroke="#1b1c6c" stroke-width="2.3" stroke-linecap="butt"/>
<polygon points="1549.8,750.6 1544.6,760.4 1555.0,760.4" fill="#1b1c6c"/>
<line x1="1581.4" y1="736.0" x2="1581.4" y2="748.0" stroke="#1b1c6c" stroke-width="2.3" stroke-linecap="butt"/>
<line x1="1576.6" y1="736.0" x2="1586.2" y2="736.0" stroke="#1b1c6c" stroke-width="2.3" stroke-linecap="butt"/>
<line x1="1576.6" y1="748.0" x2="1586.2" y2="748.0" stroke="#1b1c6c" stroke-width="2.3" stroke-linecap="butt"/>
<polygon points="1581.4,736.1 1576.2,745.9 1586.6,745.9" fill="#1b1c6c"/>
<line x1="1613.0" y1="720.9" x2="1613.0" y2="735.9" stroke="#1b1c6c" stroke-width="2.3" stroke-linecap="butt"/>
<line x1="1608.2" y1="720.9" x2="1617.8" y2="720.9" stroke="#1b1c6c" stroke-width="2.3" stroke-linecap="butt"/>
<line x1="1608.2" y1="735.9" x2="1617.8" y2="735.9" stroke="#1b1c6c" stroke-width="2.3" stroke-linecap="butt"/>
<polygon points="1613.0,722.5 1607.8,732.3 1618.2,732.3" fill="#1b1c6c"/>
<line x1="1644.6" y1="706.4" x2="1644.6" y2="723.4" stroke="#1b1c6c" stroke-width="2.3" stroke-linecap="butt"/>
<line x1="1639.8" y1="706.4" x2="1649.4" y2="706.4" stroke="#1b1c6c" stroke-width="2.3" stroke-linecap="butt"/>
<line x1="1639.8" y1="723.4" x2="1649.4" y2="723.4" stroke="#1b1c6c" stroke-width="2.3" stroke-linecap="butt"/>
<polygon points="1644.6,709.0 1639.4,718.8 1649.8,718.8" fill="#1b1c6c"/>
<line x1="1676.2" y1="693.6" x2="1676.2" y2="711.6" stroke="#1b1c6c" stroke-width="2.3" stroke-linecap="butt"/>
<line x1="1671.4" y1="693.6" x2="1681.0" y2="693.6" stroke="#1b1c6c" stroke-width="2.3" stroke-linecap="butt"/>
<line x1="1671.4" y1="711.6" x2="1681.0" y2="711.6" stroke="#1b1c6c" stroke-width="2.3" stroke-linecap="butt"/>
<polygon points="1676.2,696.7 1671.0,706.5 1681.4,706.5" fill="#1b1c6c"/>
<line x1="1707.8" y1="682.0" x2="1707.8" y2="700.6" stroke="#1b1c6c" stroke-width="2.3" stroke-linecap="butt"/>
<line x1="1703.0" y1="682.0" x2="1712.6" y2="682.0" stroke="#1b1c6c" stroke-width="2.3" stroke-linecap="butt"/>
<line x1="1703.0" y1="700.6" x2="1712.6" y2="700.6" stroke="#1b1c6c" stroke-width="2.3" stroke-linecap="butt"/>
<polygon points="1707.8,685.4 1702.6,695.2 1713.0,695.2" fill="#1b1c6c"/>
<polyline points="1233.8,912.7 1265.4,909.5 1297.0,902.6 1328.6,893.0 1360.2,880.0 1391.8,864.5 1423.4,847.4 1455.0,830.3 1486.6,815.8 1518.2,801.5 1549.8,787.9 1581.4,774.6 1613.0,761.9 1644.6,749.3 1676.2,737.0 1707.8,725.7" fill="none" stroke="#2bb34a" stroke-width="2.2" stroke-linejoin="round"/>
<circle cx="1233.8" cy="912.7" r="4.9" fill="#2bb34a"/>
<circle cx="1265.4" cy="909.5" r="4.9" fill="#2bb34a"/>
<circle cx="1297.0" cy="902.6" r="4.9" fill="#2bb34a"/>
<circle cx="1328.6" cy="893.0" r="4.9" fill="#2bb34a"/>
<circle cx="1360.2" cy="880.0" r="4.9" fill="#2bb34a"/>
<circle cx="1391.8" cy="864.5" r="4.9" fill="#2bb34a"/>
<circle cx="1423.4" cy="847.4" r="4.9" fill="#2bb34a"/>
<circle cx="1455.0" cy="830.3" r="4.9" fill="#2bb34a"/>
<circle cx="1486.6" cy="815.8" r="4.9" fill="#2bb34a"/>
<circle cx="1518.2" cy="801.5" r="4.9" fill="#2bb34a"/>
<circle cx="1549.8" cy="787.9" r="4.9" fill="#2bb34a"/>
<circle cx="1581.4" cy="774.6" r="4.9" fill="#2bb34a"/>
<circle cx="1613.0" cy="761.9" r="4.9" fill="#2bb34a"/>
<circle cx="1644.6" cy="749.3" r="4.9" fill="#2bb34a"/>
<circle cx="1676.2" cy="737.0" r="4.9" fill="#2bb34a"/>
<circle cx="1707.8" cy="725.7" r="4.9" fill="#2bb34a"/>
<polyline points="1233.8,912.7 1265.4,911.8 1297.0,908.2 1328.6,903.8 1360.2,899.0 1391.8,893.5 1423.4,887.6 1455.0,882.0 1486.6,877.4 1518.2,873.1 1549.8,869.1 1581.4,866.0 1613.0,862.9 1644.6,859.3 1676.2,857.0 1707.8,854.7" fill="none" stroke="#ec2027" stroke-width="2.2" stroke-linejoin="round"/>
<rect x="1229.0" y="907.9" width="9.6" height="9.6" fill="#ec2027" stroke="none" stroke-width="1"/>
<rect x="1260.6" y="907.0" width="9.6" height="9.6" fill="#ec2027" stroke="none" stroke-width="1"/>
<rect x="1292.2" y="903.4" width="9.6" height="9.6" fill="#ec2027" stroke="none" stroke-width="1"/>
<rect x="1323.8" y="899.0" width="9.6" height="9.6" fill="#ec2027" stroke="none" stroke-width="1"/>
<rect x="1355.4" y="894.2" width="9.6" height="9.6" fill="#ec2027" stroke="none" stroke-width="1"/>
<rect x="1387.0" y="888.7" width="9.6" height="9.6" fill="#ec2027" stroke="none" stroke-width="1"/>
<rect x="1418.6" y="882.8" width="9.6" height="9.6" fill="#ec2027" stroke="none" stroke-width="1"/>
<rect x="1450.2" y="877.2" width="9.6" height="9.6" fill="#ec2027" stroke="none" stroke-width="1"/>
<line x1="1486.6" y1="872.9" x2="1486.6" y2="881.9" stroke="#ec2027" stroke-width="2.3" stroke-linecap="butt"/>
<line x1="1481.8" y1="872.9" x2="1491.4" y2="872.9" stroke="#ec2027" stroke-width="2.3" stroke-linecap="butt"/>
<line x1="1481.8" y1="881.9" x2="1491.4" y2="881.9" stroke="#ec2027" stroke-width="2.3" stroke-linecap="butt"/>
<rect x="1481.8" y="872.6" width="9.6" height="9.6" fill="#ec2027" stroke="none" stroke-width="1"/>
<line x1="1518.2" y1="868.1" x2="1518.2" y2="878.1" stroke="#ec2027" stroke-width="2.3" stroke-linecap="butt"/>
<line x1="1513.4" y1="868.1" x2="1523.0" y2="868.1" stroke="#ec2027" stroke-width="2.3" stroke-linecap="butt"/>
<line x1="1513.4" y1="878.1" x2="1523.0" y2="878.1" stroke="#ec2027" stroke-width="2.3" stroke-linecap="butt"/>
<rect x="1513.4" y="868.3" width="9.6" height="9.6" fill="#ec2027" stroke="none" stroke-width="1"/>
<line x1="1549.8" y1="863.6" x2="1549.8" y2="874.6" stroke="#ec2027" stroke-width="2.3" stroke-linecap="butt"/>
<line x1="1545.0" y1="863.6" x2="1554.6" y2="863.6" stroke="#ec2027" stroke-width="2.3" stroke-linecap="butt"/>
<line x1="1545.0" y1="874.6" x2="1554.6" y2="874.6" stroke="#ec2027" stroke-width="2.3" stroke-linecap="butt"/>
<rect x="1545.0" y="864.3" width="9.6" height="9.6" fill="#ec2027" stroke="none" stroke-width="1"/>
<line x1="1581.4" y1="859.2" x2="1581.4" y2="872.8" stroke="#ec2027" stroke-width="2.3" stroke-linecap="butt"/>
<line x1="1576.6" y1="859.2" x2="1586.2" y2="859.2" stroke="#ec2027" stroke-width="2.3" stroke-linecap="butt"/>
<line x1="1576.6" y1="872.8" x2="1586.2" y2="872.8" stroke="#ec2027" stroke-width="2.3" stroke-linecap="butt"/>
<rect x="1576.6" y="861.2" width="9.6" height="9.6" fill="#ec2027" stroke="none" stroke-width="1"/>
<line x1="1613.0" y1="854.9" x2="1613.0" y2="870.9" stroke="#ec2027" stroke-width="2.3" stroke-linecap="butt"/>
<line x1="1608.2" y1="854.9" x2="1617.8" y2="854.9" stroke="#ec2027" stroke-width="2.3" stroke-linecap="butt"/>
<line x1="1608.2" y1="870.9" x2="1617.8" y2="870.9" stroke="#ec2027" stroke-width="2.3" stroke-linecap="butt"/>
<rect x="1608.2" y="858.1" width="9.6" height="9.6" fill="#ec2027" stroke="none" stroke-width="1"/>
<line x1="1644.6" y1="850.7" x2="1644.6" y2="867.9" stroke="#ec2027" stroke-width="2.3" stroke-linecap="butt"/>
<line x1="1639.8" y1="850.7" x2="1649.4" y2="850.7" stroke="#ec2027" stroke-width="2.3" stroke-linecap="butt"/>
<line x1="1639.8" y1="867.9" x2="1649.4" y2="867.9" stroke="#ec2027" stroke-width="2.3" stroke-linecap="butt"/>
<rect x="1639.8" y="854.5" width="9.6" height="9.6" fill="#ec2027" stroke="none" stroke-width="1"/>
<line x1="1676.2" y1="847.5" x2="1676.2" y2="866.5" stroke="#ec2027" stroke-width="2.3" stroke-linecap="butt"/>
<line x1="1671.4" y1="847.5" x2="1681.0" y2="847.5" stroke="#ec2027" stroke-width="2.3" stroke-linecap="butt"/>
<line x1="1671.4" y1="866.5" x2="1681.0" y2="866.5" stroke="#ec2027" stroke-width="2.3" stroke-linecap="butt"/>
<rect x="1671.4" y="852.2" width="9.6" height="9.6" fill="#ec2027" stroke="none" stroke-width="1"/>
<line x1="1707.8" y1="844.2" x2="1707.8" y2="865.2" stroke="#ec2027" stroke-width="2.3" stroke-linecap="butt"/>
<line x1="1703.0" y1="844.2" x2="1712.6" y2="844.2" stroke="#ec2027" stroke-width="2.3" stroke-linecap="butt"/>
<line x1="1703.0" y1="865.2" x2="1712.6" y2="865.2" stroke="#ec2027" stroke-width="2.3" stroke-linecap="butt"/>
<rect x="1703.0" y="849.9" width="9.6" height="9.6" fill="#ec2027" stroke="none" stroke-width="1"/>
<polyline points="1233.8,913.3 1265.4,913.8 1297.0,914.8 1328.6,915.1 1360.2,915.3 1391.8,915.3 1423.4,915.3 1455.0,915.3 1486.6,915.3 1518.2,915.3 1549.8,915.3 1581.4,915.2 1613.0,915.0 1644.6,914.8 1676.2,914.6 1707.8,914.4" fill="none" stroke="#2c4ba8" stroke-width="2.2" stroke-linejoin="round"/>
<circle cx="1233.8" cy="913.3" r="4.1" fill="none" stroke="#2c4ba8" stroke-width="2.4"/>
<circle cx="1265.4" cy="913.8" r="4.1" fill="none" stroke="#2c4ba8" stroke-width="2.4"/>
<circle cx="1297.0" cy="914.8" r="4.1" fill="none" stroke="#2c4ba8" stroke-width="2.4"/>
<circle cx="1328.6" cy="915.1" r="4.1" fill="none" stroke="#2c4ba8" stroke-width="2.4"/>
<circle cx="1360.2" cy="915.3" r="4.1" fill="none" stroke="#2c4ba8" stroke-width="2.4"/>
<circle cx="1391.8" cy="915.3" r="4.1" fill="none" stroke="#2c4ba8" stroke-width="2.4"/>
<circle cx="1423.4" cy="915.3" r="4.1" fill="none" stroke="#2c4ba8" stroke-width="2.4"/>
<circle cx="1455.0" cy="915.3" r="4.1" fill="none" stroke="#2c4ba8" stroke-width="2.4"/>
<circle cx="1486.6" cy="915.3" r="4.1" fill="none" stroke="#2c4ba8" stroke-width="2.4"/>
<circle cx="1518.2" cy="915.3" r="4.1" fill="none" stroke="#2c4ba8" stroke-width="2.4"/>
<circle cx="1549.8" cy="915.3" r="4.1" fill="none" stroke="#2c4ba8" stroke-width="2.4"/>
<circle cx="1581.4" cy="915.2" r="4.1" fill="none" stroke="#2c4ba8" stroke-width="2.4"/>
<circle cx="1613.0" cy="915.0" r="4.1" fill="none" stroke="#2c4ba8" stroke-width="2.4"/>
<circle cx="1644.6" cy="914.8" r="4.1" fill="none" stroke="#2c4ba8" stroke-width="2.4"/>
<circle cx="1676.2" cy="914.6" r="4.1" fill="none" stroke="#2c4ba8" stroke-width="2.4"/>
<circle cx="1707.8" cy="914.4" r="4.1" fill="none" stroke="#2c4ba8" stroke-width="2.4"/>
<line x1="1723.4" y1="690.0" x2="1758.4" y2="690.0" stroke="#1b1c6c" stroke-width="2.2" stroke-linecap="butt"/>
<polygon points="1740.9,684.1 1735.7,693.9 1746.1000000000001,693.9" fill="#1b1c6c"/>
<line x1="1723.4" y1="726.4" x2="1758.4" y2="726.4" stroke="#2bb34a" stroke-width="2.2" stroke-linecap="butt"/>
<circle cx="1740.9" cy="726.4" r="4.9" fill="#2bb34a"/>
<line x1="1726.4" y1="855.5" x2="1761.4" y2="855.5" stroke="#ec2027" stroke-width="2.2" stroke-linecap="butt"/>
<rect x="1739.1" y="850.7" width="9.6" height="9.6" fill="#ec2027" stroke="none" stroke-width="1"/>
<line x1="1725.4" y1="915.6" x2="1760.4" y2="915.6" stroke="#2c4ba8" stroke-width="2.2" stroke-linecap="butt"/>
<circle cx="1742.9" cy="915.6" r="4.1" fill="#fff" stroke="#2c4ba8" stroke-width="2.4"/>
<text x="1768.8" y="703.7" font-size="36.2" fill="#000" textLength="168.5" lengthAdjust="spacingAndGlyphs">BCL11A-XL</text>
<text x="1770.1" y="741.8" font-size="36.2" fill="#000" textLength="124.3" lengthAdjust="spacingAndGlyphs">160-520</text>
<text x="1768.8" y="865.5" font-size="36.2" fill="#000" textLength="60.5" lengthAdjust="spacingAndGlyphs">BSA</text>
<text x="1768.8" y="930.0" font-size="36.2" fill="#000" textLength="89.6" lengthAdjust="spacingAndGlyphs">Probe</text>
<polyline points="1924.7,673.6 1942.6,673.6 1942.6,891.8 1924.7,891.8" fill="none" stroke="#000" stroke-width="1.7"/>
<text transform="translate(1985.3,834.3) rotate(-90)" font-size="37.0" fill="#000" textLength="90.0" lengthAdjust="spacingAndGlyphs">+ OGG1</text>
</g>
<g id="secD">
<text x="5.3" y="1087.0" font-size="48.6" font-weight="bold" fill="#231f20" textLength="32.3" lengthAdjust="spacingAndGlyphs">D</text>
<text x="90.3" y="1201.2" font-size="36.2" fill="#000" textLength="130.3" lengthAdjust="spacingAndGlyphs">MDA231</text>
<text x="89.0" y="1245.8" font-size="35.7" fill="#000" textLength="128.9" lengthAdjust="spacingAndGlyphs">+ vector</text>
<line x1="78.8" y1="1266.0" x2="235.4" y2="1266.0" stroke="#000" stroke-width="3.2" stroke-linecap="butt"/>
<text x="298.8" y="1201.2" font-size="36.2" fill="#000" textLength="130.1" lengthAdjust="spacingAndGlyphs">MDA231</text>
<text x="250.4" y="1245.8" font-size="35.7" fill="#000" textLength="149.8" lengthAdjust="spacingAndGlyphs">+ BCL11A</text>
<text x="402.3" y="1233.6" font-size="21.2" fill="#000" textLength="72.4" lengthAdjust="spacingAndGlyphs">160-520</text>
<line x1="280.7" y1="1266.7" x2="436.9" y2="1266.7" stroke="#000" stroke-width="3.2" stroke-linecap="butt"/>
<text transform="translate(112.8,1499.0) rotate(-90)" font-size="33.0" fill="#000" textLength="123.5" lengthAdjust="spacingAndGlyphs">NT siRNA</text>
<text transform="translate(175.8,1499.0) rotate(-90)" font-size="33.0" fill="#000" textLength="204.2" lengthAdjust="spacingAndGlyphs">BCL11A siRNA1</text>
<text transform="translate(238.2,1499.0) rotate(-90)" font-size="33.0" fill="#000" textLength="208.2" lengthAdjust="spacingAndGlyphs">BCL11A siRNA2</text>
<text transform="translate(301.7,1499.0) rotate(-90)" font-size="33.0" fill="#000" textLength="123.5" lengthAdjust="spacingAndGlyphs">NT siRNA</text>
<text transform="translate(365.5,1499.0) rotate(-90)" font-size="33.0" fill="#000" textLength="204.2" lengthAdjust="spacingAndGlyphs">BCL11A siRNA1</text>
<text transform="translate(428.2,1499.0) rotate(-90)" font-size="33.0" fill="#000" textLength="208.2" lengthAdjust="spacingAndGlyphs">BCL11A siRNA2</text>
<clipPath id="cd1"><rect x="70" y="1508" width="373" height="57"/></clipPath>
<rect x="70.0" y="1508.0" width="373.0" height="57.0" fill="#fafafa" stroke="none" stroke-width="1"/>
<filter id="fc1" filterUnits="userSpaceOnUse" x="50" y="1490" width="420" height="100"><feGaussianBlur stdDeviation="0.7"/></filter>
<filter id="fc2" filterUnits="userSpaceOnUse" x="50" y="1490" width="420" height="100"><feGaussianBlur stdDeviation="1.5"/></filter>
<filter id="fc3" filterUnits="userSpaceOnUse" x="50" y="1490" width="420" height="100"><feGaussianBlur stdDeviation="2.5"/></filter>
<filter id="fc4" filterUnits="userSpaceOnUse" x="50" y="1490" width="420" height="100"><feGaussianBlur stdDeviation="4"/></filter>
<g clip-path="url(#cd1)">
<rect x="81.7" y="1534" width="34" height="22" fill="#555" opacity="0.17" filter="url(#fc4)"/>
<rect x="143.3" y="1534" width="34" height="18" fill="#555" opacity="0.02" filter="url(#fc4)"/>
<rect x="206.7" y="1534" width="34" height="18" fill="#555" opacity="0.05" filter="url(#fc4)"/>
<rect x="269.6" y="1534" width="34" height="30" fill="#555" opacity="0.5" filter="url(#fc4)"/>
<rect x="330.5" y="1534" width="34" height="24" fill="#555" opacity="0.12" filter="url(#fc4)"/>
<rect x="393.9" y="1534" width="34" height="26" fill="#555" opacity="0.16" filter="url(#fc4)"/>
<rect x="270" y="1551" width="33" height="5" fill="#444" opacity="0.45" filter="url(#fc3)"/>
<path d="M79.7,1533.5 Q98.7,1531.0 117.7,1533.5" stroke="#1a1a1a" stroke-width="4.5" fill="none" stroke-linecap="round" filter="url(#fc2)"/>
<path d="M141.3,1534 Q160.3,1531.5 179.3,1534" stroke="#9a9a9a" stroke-width="2.6" fill="none" stroke-linecap="round" filter="url(#fc2)"/>
<path d="M203.2,1535.5 Q223.7,1533.0 244.2,1535.5" stroke="#444" stroke-width="3.6" fill="none" stroke-linecap="round" filter="url(#fc2)"/>
<path d="M269.6,1534.5 Q286.6,1532.0 303.6,1534.5" stroke="#0a0a0a" stroke-width="9" fill="none" stroke-linecap="round" filter="url(#fc2)"/>
<path d="M328.5,1534.5 Q347.5,1532.0 366.5,1534.5" stroke="#6a6a6a" stroke-width="3" fill="none" stroke-linecap="round" filter="url(#fc2)"/>
<path d="M391.9,1533.5 Q410.9,1531.0 429.9,1533.5" stroke="#777" stroke-width="3" fill="none" stroke-linecap="round" filter="url(#fc2)"/>
<path d="M290,1536 L303,1537" stroke="#0a0a0a" stroke-width="7" fill="none" stroke-linecap="round" filter="url(#fc2)"/>
</g>
<rect x="70.0" y="1508.2" width="373.0" height="56.7" fill="none" stroke="#2e2e2e" stroke-width="2.5"/>
<text x="3.9" y="1562.8" font-size="31.3" fill="#000" textLength="50.8" lengthAdjust="spacingAndGlyphs">250</text>
<line x1="55.7" y1="1549.7" x2="66.5" y2="1549.7" stroke="#000" stroke-width="1.8" stroke-linecap="butt"/>
<text transform="translate(98.5,1597.6) scale(0.95,1)" font-size="35.2" fill="#000" text-anchor="middle">1</text>
<text transform="translate(161.3,1597.6) scale(0.95,1)" font-size="35.2" fill="#000" text-anchor="middle">2</text>
<text transform="translate(226.5,1597.6) scale(0.95,1)" font-size="35.2" fill="#000" text-anchor="middle">3</text>
<text transform="translate(289.3,1597.6) scale(0.95,1)" font-size="35.2" fill="#000" text-anchor="middle">4</text>
<text transform="translate(350.5,1597.6) scale(0.95,1)" font-size="35.2" fill="#000" text-anchor="middle">5</text>
<text transform="translate(412.1,1597.6) scale(0.95,1)" font-size="35.2" fill="#000" text-anchor="middle">6</text>
<text x="153.4" y="1645.0" font-size="39.9" fill="#000" textLength="258.5" lengthAdjust="spacingAndGlyphs">IB: BCL11A-382</text>
<clipPath id="cd2"><rect x="71.5" y="1670" width="370" height="34"/></clipPath>
<rect x="71.5" y="1670.0" width="370.0" height="34.0" fill="#fefefe" stroke="none" stroke-width="1"/>
<filter id="fd1" filterUnits="userSpaceOnUse" x="50" y="1650" width="420" height="80"><feGaussianBlur stdDeviation="0.7"/></filter>
<filter id="fd2" filterUnits="userSpaceOnUse" x="50" y="1650" width="420" height="80"><feGaussianBlur stdDeviation="1.5"/></filter>
<filter id="fd3" filterUnits="userSpaceOnUse" x="50" y="1650" width="420" height="80"><feGaussianBlur stdDeviation="2.5"/></filter>
<filter id="fd4" filterUnits="userSpaceOnUse" x="50" y="1650" width="420" height="80"><feGaussianBlur stdDeviation="4"/></filter>
<g clip-path="url(#cd2)">
<path d="M264,1690 Q285,1683 305,1692" stroke="#000" stroke-width="15" fill="none" stroke-linecap="round" filter="url(#fd2)"/>
<path d="M328,1691 Q347,1686 366,1692" stroke="#333" stroke-width="7" fill="none" stroke-linecap="round" filter="url(#fd3)"/>
<path d="M392,1690 Q410,1688 424,1689" stroke="#999" stroke-width="5" fill="none" stroke-linecap="round" filter="url(#fd3)"/>
</g>
<rect x="71.5" y="1669.9" width="369.9" height="34.1" fill="none" stroke="#000" stroke-width="3"/>
<text x="22.6" y="1703.1" font-size="31.3" fill="#000" textLength="33.4" lengthAdjust="spacingAndGlyphs">37</text>
<line x1="56.8" y1="1689.9" x2="68.0" y2="1689.9" stroke="#000" stroke-width="1.8" stroke-linecap="butt"/>
<text x="207.7" y="1741.1" font-size="39.7" fill="#000" textLength="103.8" lengthAdjust="spacingAndGlyphs">IB: HA</text>
<clipPath id="cd3"><rect x="71" y="1765" width="371" height="29"/></clipPath>
<rect x="71.0" y="1765.0" width="371.0" height="29.0" fill="#fdfdfd" stroke="none" stroke-width="1"/>
<filter id="fe1" filterUnits="userSpaceOnUse" x="50" y="1745" width="420" height="70"><feGaussianBlur stdDeviation="0.7"/></filter>
<filter id="fe2" filterUnits="userSpaceOnUse" x="50" y="1745" width="420" height="70"><feGaussianBlur stdDeviation="1.5"/></filter>
<filter id="fe3" filterUnits="userSpaceOnUse" x="50" y="1745" width="420" height="70"><feGaussianBlur stdDeviation="2.5"/></filter>
<filter id="fe4" filterUnits="userSpaceOnUse" x="50" y="1745" width="420" height="70"><feGaussianBlur stdDeviation="4"/></filter>
<g clip-path="url(#cd3)">
<path d="M83,1780 Q105.0,1782 127,1779" stroke="#000" stroke-width="13" fill="none" stroke-linecap="round" filter="url(#fe2)"/>
<path d="M142,1781.5 Q165.5,1783.5 189,1780.5" stroke="#000" stroke-width="14" fill="none" stroke-linecap="round" filter="url(#fe2)"/>
<path d="M202,1782 Q227.5,1784 253,1781" stroke="#000" stroke-width="14" fill="none" stroke-linecap="round" filter="url(#fe2)"/>
<path d="M268,1778.5 Q287.0,1780.5 306,1777.5" stroke="#000" stroke-width="11" fill="none" stroke-linecap="round" filter="url(#fe2)"/>
<path d="M326,1777.5 Q345.5,1779.5 365,1776.5" stroke="#000" stroke-width="10" fill="none" stroke-linecap="round" filter="url(#fe2)"/>
<path d="M384,1775.5 Q407.0,1777.5 430,1774.5" stroke="#000" stroke-width="12" fill="none" stroke-linecap="round" filter="url(#fe2)"/>
</g>
<rect x="70.5" y="1764.9" width="371.7" height="29.7" fill="none" stroke="#000" stroke-width="2.8"/>
<text x="21.4" y="1785.8" font-size="31.3" fill="#000" textLength="33.7" lengthAdjust="spacingAndGlyphs">50</text>
<line x1="56.8" y1="1771.8" x2="67.0" y2="1771.8" stroke="#000" stroke-width="1.8" stroke-linecap="butt"/>
<text x="154.5" y="1837.1" font-size="39.7" fill="#000" textLength="212.4" lengthAdjust="spacingAndGlyphs">IB: γ-Tubulin</text>
<line x1="623.3" y1="1404.6" x2="1485.0" y2="1404.6" stroke="#9c9ca0" stroke-width="1.5" stroke-linecap="butt"/>
<text transform="translate(616,1416.4) scale(0.93,1)" font-size="31.2" text-anchor="end">0</text>
<line x1="623.3" y1="1333.6" x2="1485.0" y2="1333.6" stroke="#9c9ca0" stroke-width="1.5" stroke-linecap="butt"/>
<text transform="translate(616,1345.4) scale(0.93,1)" font-size="31.2" text-anchor="end">50</text>
<line x1="623.3" y1="1262.5" x2="1485.0" y2="1262.5" stroke="#9c9ca0" stroke-width="1.5" stroke-linecap="butt"/>
<text transform="translate(616,1274.3) scale(0.93,1)" font-size="31.2" text-anchor="end">100</text>
<line x1="623.3" y1="1191.5" x2="1485.0" y2="1191.5" stroke="#9c9ca0" stroke-width="1.5" stroke-linecap="butt"/>
<text transform="translate(616,1203.3) scale(0.93,1)" font-size="31.2" text-anchor="end">150</text>
<line x1="623.3" y1="1120.5" x2="1485.0" y2="1120.5" stroke="#9c9ca0" stroke-width="1.5" stroke-linecap="butt"/>
<text transform="translate(616,1132.3) scale(0.93,1)" font-size="31.2" text-anchor="end">200</text>
<rect x="661.8" y="1333.0" width="34.4" height="71.6" fill="#4d4d4f" stroke="#231f20" stroke-width="1.6"/>
<line x1="679.0" y1="1323.2" x2="679.0" y2="1341.1" stroke="#231f20" stroke-width="1.7" stroke-linecap="butt"/>
<line x1="674.1" y1="1323.2" x2="683.9" y2="1323.2" stroke="#231f20" stroke-width="1.7" stroke-linecap="butt"/>
<line x1="674.1" y1="1341.1" x2="683.9" y2="1341.1" stroke="#231f20" stroke-width="1.7" stroke-linecap="butt"/>
<rect x="705.8" y="1273.7" width="34.4" height="130.9" fill="#d4e5e0" stroke="#231f20" stroke-width="1.6"/>
<line x1="723.0" y1="1264.7" x2="723.0" y2="1281.2" stroke="#231f20" stroke-width="1.7" stroke-linecap="butt"/>
<line x1="718.1" y1="1264.7" x2="727.9" y2="1264.7" stroke="#231f20" stroke-width="1.7" stroke-linecap="butt"/>
<line x1="718.1" y1="1281.2" x2="727.9" y2="1281.2" stroke="#231f20" stroke-width="1.7" stroke-linecap="butt"/>
<rect x="750.0" y="1277.6" width="34.4" height="127.0" fill="#00a59a" stroke="#231f20" stroke-width="1.6"/>
<line x1="767.2" y1="1268.5" x2="767.2" y2="1285.0" stroke="#231f20" stroke-width="1.7" stroke-linecap="butt"/>
<line x1="762.3" y1="1268.5" x2="772.1" y2="1268.5" stroke="#231f20" stroke-width="1.7" stroke-linecap="butt"/>
<line x1="762.3" y1="1285.0" x2="772.1" y2="1285.0" stroke="#231f20" stroke-width="1.7" stroke-linecap="butt"/>
<rect x="794.0" y="1336.4" width="34.4" height="68.2" fill="#fcdece" stroke="#231f20" stroke-width="1.6"/>
<line x1="811.2" y1="1326.5" x2="811.2" y2="1344.7" stroke="#231f20" stroke-width="1.7" stroke-linecap="butt"/>
<line x1="806.3" y1="1326.5" x2="816.1" y2="1326.5" stroke="#231f20" stroke-width="1.7" stroke-linecap="butt"/>
<line x1="806.3" y1="1344.7" x2="816.1" y2="1344.7" stroke="#231f20" stroke-width="1.7" stroke-linecap="butt"/>
<rect x="838.3" y="1340.1" width="34.4" height="64.5" fill="#f37646" stroke="#231f20" stroke-width="1.6"/>
<line x1="855.5" y1="1328.5" x2="855.5" y2="1350.1" stroke="#231f20" stroke-width="1.7" stroke-linecap="butt"/>
<line x1="850.6" y1="1328.5" x2="860.4" y2="1328.5" stroke="#231f20" stroke-width="1.7" stroke-linecap="butt"/>
<line x1="850.6" y1="1350.1" x2="860.4" y2="1350.1" stroke="#231f20" stroke-width="1.7" stroke-linecap="butt"/>
<rect x="948.8" y="1219.3" width="34.4" height="185.3" fill="#4d4d4f" stroke="#231f20" stroke-width="1.6"/>
<line x1="966.0" y1="1212.1" x2="966.0" y2="1224.9" stroke="#231f20" stroke-width="1.7" stroke-linecap="butt"/>
<line x1="961.1" y1="1212.1" x2="970.9" y2="1212.1" stroke="#231f20" stroke-width="1.7" stroke-linecap="butt"/>
<line x1="961.1" y1="1224.9" x2="970.9" y2="1224.9" stroke="#231f20" stroke-width="1.7" stroke-linecap="butt"/>
<rect x="993.3" y="1168.2" width="34.4" height="236.4" fill="#d4e5e0" stroke="#231f20" stroke-width="1.6"/>
<line x1="1010.5" y1="1162.8" x2="1010.5" y2="1171.9" stroke="#231f20" stroke-width="1.7" stroke-linecap="butt"/>
<line x1="1005.6" y1="1162.8" x2="1015.4" y2="1162.8" stroke="#231f20" stroke-width="1.7" stroke-linecap="butt"/>
<line x1="1005.6" y1="1171.9" x2="1015.4" y2="1171.9" stroke="#231f20" stroke-width="1.7" stroke-linecap="butt"/>
<rect x="1037.6" y="1159.4" width="34.4" height="245.2" fill="#00a59a" stroke="#231f20" stroke-width="1.6"/>
<line x1="1054.8" y1="1154.0" x2="1054.8" y2="1163.1" stroke="#231f20" stroke-width="1.7" stroke-linecap="butt"/>
<line x1="1049.9" y1="1154.0" x2="1059.7" y2="1154.0" stroke="#231f20" stroke-width="1.7" stroke-linecap="butt"/>
<line x1="1049.9" y1="1163.1" x2="1059.7" y2="1163.1" stroke="#231f20" stroke-width="1.7" stroke-linecap="butt"/>
<rect x="1081.8" y="1215.1" width="34.4" height="189.5" fill="#fcdece" stroke="#231f20" stroke-width="1.6"/>
<line x1="1099.0" y1="1209.7" x2="1099.0" y2="1218.8" stroke="#231f20" stroke-width="1.7" stroke-linecap="butt"/>
<line x1="1094.1" y1="1209.7" x2="1103.9" y2="1209.7" stroke="#231f20" stroke-width="1.7" stroke-linecap="butt"/>
<line x1="1094.1" y1="1218.8" x2="1103.9" y2="1218.8" stroke="#231f20" stroke-width="1.7" stroke-linecap="butt"/>
<rect x="1125.6" y="1222.2" width="34.4" height="182.4" fill="#f37646" stroke="#231f20" stroke-width="1.6"/>
<line x1="1142.8" y1="1216.0" x2="1142.8" y2="1226.8" stroke="#231f20" stroke-width="1.7" stroke-linecap="butt"/>
<line x1="1137.9" y1="1216.0" x2="1147.7" y2="1216.0" stroke="#231f20" stroke-width="1.7" stroke-linecap="butt"/>
<line x1="1137.9" y1="1226.8" x2="1147.7" y2="1226.8" stroke="#231f20" stroke-width="1.7" stroke-linecap="butt"/>
<rect x="1236.1" y="1313.1" width="34.4" height="91.5" fill="#4d4d4f" stroke="#231f20" stroke-width="1.6"/>
<line x1="1253.3" y1="1305.9" x2="1253.3" y2="1318.7" stroke="#231f20" stroke-width="1.7" stroke-linecap="butt"/>
<line x1="1248.4" y1="1305.9" x2="1258.2" y2="1305.9" stroke="#231f20" stroke-width="1.7" stroke-linecap="butt"/>
<line x1="1248.4" y1="1318.7" x2="1258.2" y2="1318.7" stroke="#231f20" stroke-width="1.7" stroke-linecap="butt"/>
<rect x="1280.3" y="1208.0" width="34.4" height="196.6" fill="#d4e5e0" stroke="#231f20" stroke-width="1.6"/>
<line x1="1297.5" y1="1200.0" x2="1297.5" y2="1214.3" stroke="#231f20" stroke-width="1.7" stroke-linecap="butt"/>
<line x1="1292.6" y1="1200.0" x2="1302.4" y2="1200.0" stroke="#231f20" stroke-width="1.7" stroke-linecap="butt"/>
<line x1="1292.6" y1="1214.3" x2="1302.4" y2="1214.3" stroke="#231f20" stroke-width="1.7" stroke-linecap="butt"/>
<rect x="1324.5" y="1200.8" width="34.4" height="203.8" fill="#00a59a" stroke="#231f20" stroke-width="1.6"/>
<line x1="1341.7" y1="1193.7" x2="1341.7" y2="1206.4" stroke="#231f20" stroke-width="1.7" stroke-linecap="butt"/>
<line x1="1336.8" y1="1193.7" x2="1346.6" y2="1193.7" stroke="#231f20" stroke-width="1.7" stroke-linecap="butt"/>
<line x1="1336.8" y1="1206.4" x2="1346.6" y2="1206.4" stroke="#231f20" stroke-width="1.7" stroke-linecap="butt"/>
<rect x="1368.7" y="1308.8" width="34.4" height="95.8" fill="#fcdece" stroke="#231f20" stroke-width="1.6"/>
<line x1="1385.9" y1="1302.3" x2="1385.9" y2="1313.7" stroke="#231f20" stroke-width="1.7" stroke-linecap="butt"/>
<line x1="1381.0" y1="1302.3" x2="1390.8" y2="1302.3" stroke="#231f20" stroke-width="1.7" stroke-linecap="butt"/>
<line x1="1381.0" y1="1313.7" x2="1390.8" y2="1313.7" stroke="#231f20" stroke-width="1.7" stroke-linecap="butt"/>
<rect x="1412.8" y="1317.3" width="34.4" height="87.3" fill="#f37646" stroke="#231f20" stroke-width="1.6"/>
<line x1="1430.0" y1="1311.1" x2="1430.0" y2="1321.9" stroke="#231f20" stroke-width="1.7" stroke-linecap="butt"/>
<line x1="1425.1" y1="1311.1" x2="1434.9" y2="1311.1" stroke="#231f20" stroke-width="1.7" stroke-linecap="butt"/>
<line x1="1425.1" y1="1321.9" x2="1434.9" y2="1321.9" stroke="#231f20" stroke-width="1.7" stroke-linecap="butt"/>
<text transform="translate(543.1,1415.3) rotate(-90)" font-size="39.4" fill="#000" textLength="305.5" lengthAdjust="spacingAndGlyphs">Olive Tail Moment</text>
<text x="1000.3" y="1080.1" font-size="36.2" fill="#000" textLength="94.5" lengthAdjust="spacingAndGlyphs">pH10</text>
<line x1="659.8" y1="1214.1" x2="730.5" y2="1214.1" stroke="#000" stroke-width="2.6" stroke-linecap="butt"/>
<text transform="translate(696.6,1216.7) scale(0.8464,0.92)" class="st" font-size="36" text-anchor="middle" fill="#231f20" letter-spacing="-1">***</text>
<text transform="translate(745.3,1247.0) scale(0.95,1)" font-size="34.0" text-anchor="middle">ns</text>
<line x1="726.2" y1="1253.4" x2="765.5" y2="1253.4" stroke="#000" stroke-width="2.6" stroke-linecap="butt"/>
<line x1="767.4" y1="1213.2" x2="837.9" y2="1213.2" stroke="#000" stroke-width="2.6" stroke-linecap="butt"/>
<text transform="translate(804.1,1215.8) scale(0.8464,0.92)" class="st" font-size="36" text-anchor="middle" fill="#231f20" letter-spacing="-1">***</text>
<text transform="translate(830.3,1308.1) scale(0.95,1)" font-size="34.0" text-anchor="middle">ns</text>
<line x1="811.7" y1="1313.3" x2="850.6" y2="1313.3" stroke="#000" stroke-width="2.6" stroke-linecap="butt"/>
<line x1="1232.8" y1="1148.2" x2="1304.0" y2="1148.2" stroke="#000" stroke-width="2.6" stroke-linecap="butt"/>
<text transform="translate(1269.9,1150.8) scale(0.8464,0.92)" class="st" font-size="36" text-anchor="middle" fill="#231f20" letter-spacing="-1">***</text>
<text transform="translate(1320.2,1177.3) scale(0.95,1)" font-size="34.0" text-anchor="middle">ns</text>
<line x1="1300.4" y1="1182.0" x2="1340.4" y2="1182.0" stroke="#000" stroke-width="2.6" stroke-linecap="butt"/>
<line x1="1348.2" y1="1156.5" x2="1418.9" y2="1156.5" stroke="#000" stroke-width="2.6" stroke-linecap="butt"/>
<text transform="translate(1385.1,1159.1) scale(0.8464,0.92)" class="st" font-size="36" text-anchor="middle" fill="#231f20" letter-spacing="-1">***</text>
<text transform="translate(1410.6,1283.9) scale(0.95,1)" font-size="34.0" text-anchor="middle">ns</text>
<line x1="1390.3" y1="1288.6" x2="1430.4" y2="1288.6" stroke="#000" stroke-width="2.6" stroke-linecap="butt"/>
<text x="688.8" y="1438.4" font-size="34.8" textLength="122.2" lengthAdjust="spacingAndGlyphs">No H<tspan font-size="20.9" dy="3">2</tspan><tspan dy="-3">O</tspan><tspan font-size="20.9" dy="3">2</tspan></text>
<text transform="translate(1044.2,1438.4) scale(0.94,1)" font-size="34.8" text-anchor="middle">0′</text>
<text transform="translate(1330.8,1438.4) scale(0.94,1)" font-size="34.8" text-anchor="middle">45′</text>
<polyline points="920.0,1425.8 920.0,1460.6 1452.2,1460.6 1452.2,1425.8" fill="none" stroke="#58595b" stroke-width="1.5"/>
<text x="983.4" y="1490.7" font-size="34.8" textLength="389.8" lengthAdjust="spacingAndGlyphs">Recovery (min) after H<tspan font-size="20.9" dy="12">2</tspan><tspan dy="-12">O</tspan><tspan font-size="20.9" dy="12">2</tspan></text>
<line x1="637.7" y1="1898.1" x2="1495.5" y2="1898.1" stroke="#9c9ca0" stroke-width="1.5" stroke-linecap="butt"/>
<text transform="translate(631,1909.9) scale(0.93,1)" font-size="31.2" text-anchor="end">0</text>
<line x1="637.7" y1="1827.5" x2="1495.5" y2="1827.5" stroke="#9c9ca0" stroke-width="1.5" stroke-linecap="butt"/>
<text transform="translate(631,1839.3) scale(0.93,1)" font-size="31.2" text-anchor="end">50</text>
<line x1="637.7" y1="1757.0" x2="1495.5" y2="1757.0" stroke="#9c9ca0" stroke-width="1.5" stroke-linecap="butt"/>
<text transform="translate(631,1768.8) scale(0.93,1)" font-size="31.2" text-anchor="end">100</text>
<line x1="637.7" y1="1686.4" x2="1495.5" y2="1686.4" stroke="#9c9ca0" stroke-width="1.5" stroke-linecap="butt"/>
<text transform="translate(631,1698.2) scale(0.93,1)" font-size="31.2" text-anchor="end">150</text>
<line x1="637.7" y1="1615.9" x2="1495.5" y2="1615.9" stroke="#9c9ca0" stroke-width="1.5" stroke-linecap="butt"/>
<text transform="translate(631,1627.7) scale(0.93,1)" font-size="31.2" text-anchor="end">200</text>
<rect x="675.8" y="1817.1" width="34.4" height="81.0" fill="#4d4d4f" stroke="#231f20" stroke-width="1.6"/>
<line x1="693.0" y1="1809.2" x2="693.0" y2="1823.3" stroke="#231f20" stroke-width="1.7" stroke-linecap="butt"/>
<line x1="688.1" y1="1809.2" x2="697.9" y2="1809.2" stroke="#231f20" stroke-width="1.7" stroke-linecap="butt"/>
<line x1="688.1" y1="1823.3" x2="697.9" y2="1823.3" stroke="#231f20" stroke-width="1.7" stroke-linecap="butt"/>
<rect x="720.0" y="1697.1" width="34.4" height="201.0" fill="#d4e5e0" stroke="#231f20" stroke-width="1.6"/>
<line x1="737.2" y1="1692.8" x2="737.2" y2="1699.9" stroke="#231f20" stroke-width="1.7" stroke-linecap="butt"/>
<line x1="732.3" y1="1692.8" x2="742.1" y2="1692.8" stroke="#231f20" stroke-width="1.7" stroke-linecap="butt"/>
<line x1="732.3" y1="1699.9" x2="742.1" y2="1699.9" stroke="#231f20" stroke-width="1.7" stroke-linecap="butt"/>
<rect x="764.1" y="1698.5" width="34.4" height="199.6" fill="#00a59a" stroke="#231f20" stroke-width="1.6"/>
<line x1="781.3" y1="1693.8" x2="781.3" y2="1701.7" stroke="#231f20" stroke-width="1.7" stroke-linecap="butt"/>
<line x1="776.4" y1="1693.8" x2="786.2" y2="1693.8" stroke="#231f20" stroke-width="1.7" stroke-linecap="butt"/>
<line x1="776.4" y1="1701.7" x2="786.2" y2="1701.7" stroke="#231f20" stroke-width="1.7" stroke-linecap="butt"/>
<rect x="808.3" y="1822.7" width="34.4" height="75.4" fill="#fcdece" stroke="#231f20" stroke-width="1.6"/>
<line x1="825.5" y1="1817.4" x2="825.5" y2="1826.4" stroke="#231f20" stroke-width="1.7" stroke-linecap="butt"/>
<line x1="820.6" y1="1817.4" x2="830.4" y2="1817.4" stroke="#231f20" stroke-width="1.7" stroke-linecap="butt"/>
<line x1="820.6" y1="1826.4" x2="830.4" y2="1826.4" stroke="#231f20" stroke-width="1.7" stroke-linecap="butt"/>
<rect x="852.5" y="1818.5" width="34.4" height="79.6" fill="#f37646" stroke="#231f20" stroke-width="1.6"/>
<line x1="869.7" y1="1814.6" x2="869.7" y2="1820.8" stroke="#231f20" stroke-width="1.7" stroke-linecap="butt"/>
<line x1="864.8" y1="1814.6" x2="874.6" y2="1814.6" stroke="#231f20" stroke-width="1.7" stroke-linecap="butt"/>
<line x1="864.8" y1="1820.8" x2="874.6" y2="1820.8" stroke="#231f20" stroke-width="1.7" stroke-linecap="butt"/>
<rect x="962.3" y="1653.4" width="34.4" height="244.7" fill="#4d4d4f" stroke="#231f20" stroke-width="1.6"/>
<line x1="979.5" y1="1649.1" x2="979.5" y2="1656.1" stroke="#231f20" stroke-width="1.7" stroke-linecap="butt"/>
<line x1="974.6" y1="1649.1" x2="984.4" y2="1649.1" stroke="#231f20" stroke-width="1.7" stroke-linecap="butt"/>
<line x1="974.6" y1="1656.1" x2="984.4" y2="1656.1" stroke="#231f20" stroke-width="1.7" stroke-linecap="butt"/>
<rect x="1006.5" y="1624.5" width="34.4" height="273.6" fill="#d4e5e0" stroke="#231f20" stroke-width="1.6"/>
<line x1="1023.7" y1="1619.4" x2="1023.7" y2="1627.9" stroke="#231f20" stroke-width="1.7" stroke-linecap="butt"/>
<line x1="1018.8" y1="1619.4" x2="1028.6" y2="1619.4" stroke="#231f20" stroke-width="1.7" stroke-linecap="butt"/>
<line x1="1018.8" y1="1627.9" x2="1028.6" y2="1627.9" stroke="#231f20" stroke-width="1.7" stroke-linecap="butt"/>
<rect x="1050.7" y="1611.8" width="34.4" height="286.3" fill="#00a59a" stroke="#231f20" stroke-width="1.6"/>
<line x1="1067.9" y1="1607.4" x2="1067.9" y2="1614.5" stroke="#231f20" stroke-width="1.7" stroke-linecap="butt"/>
<line x1="1063.0" y1="1607.4" x2="1072.8" y2="1607.4" stroke="#231f20" stroke-width="1.7" stroke-linecap="butt"/>
<line x1="1063.0" y1="1614.5" x2="1072.8" y2="1614.5" stroke="#231f20" stroke-width="1.7" stroke-linecap="butt"/>
<rect x="1094.8" y="1683.0" width="34.4" height="215.1" fill="#fcdece" stroke="#231f20" stroke-width="1.6"/>
<line x1="1112.0" y1="1678.0" x2="1112.0" y2="1686.4" stroke="#231f20" stroke-width="1.7" stroke-linecap="butt"/>
<line x1="1107.1" y1="1678.0" x2="1116.9" y2="1678.0" stroke="#231f20" stroke-width="1.7" stroke-linecap="butt"/>
<line x1="1107.1" y1="1686.4" x2="1116.9" y2="1686.4" stroke="#231f20" stroke-width="1.7" stroke-linecap="butt"/>
<rect x="1138.6" y="1678.8" width="34.4" height="219.3" fill="#f37646" stroke="#231f20" stroke-width="1.6"/>
<line x1="1155.8" y1="1673.0" x2="1155.8" y2="1682.9" stroke="#231f20" stroke-width="1.7" stroke-linecap="butt"/>
<line x1="1150.9" y1="1673.0" x2="1160.7" y2="1673.0" stroke="#231f20" stroke-width="1.7" stroke-linecap="butt"/>
<line x1="1150.9" y1="1682.9" x2="1160.7" y2="1682.9" stroke="#231f20" stroke-width="1.7" stroke-linecap="butt"/>
<rect x="1248.2" y="1784.6" width="34.4" height="113.5" fill="#4d4d4f" stroke="#231f20" stroke-width="1.6"/>
<line x1="1265.4" y1="1778.9" x2="1265.4" y2="1788.7" stroke="#231f20" stroke-width="1.7" stroke-linecap="butt"/>
<line x1="1260.5" y1="1778.9" x2="1270.3" y2="1778.9" stroke="#231f20" stroke-width="1.7" stroke-linecap="butt"/>
<line x1="1260.5" y1="1788.7" x2="1270.3" y2="1788.7" stroke="#231f20" stroke-width="1.7" stroke-linecap="butt"/>
<rect x="1292.3" y="1647.7" width="34.4" height="250.4" fill="#d4e5e0" stroke="#231f20" stroke-width="1.6"/>
<line x1="1309.5" y1="1642.0" x2="1309.5" y2="1651.9" stroke="#231f20" stroke-width="1.7" stroke-linecap="butt"/>
<line x1="1304.6" y1="1642.0" x2="1314.4" y2="1642.0" stroke="#231f20" stroke-width="1.7" stroke-linecap="butt"/>
<line x1="1304.6" y1="1651.9" x2="1314.4" y2="1651.9" stroke="#231f20" stroke-width="1.7" stroke-linecap="butt"/>
<rect x="1336.5" y="1660.4" width="34.4" height="237.7" fill="#00a59a" stroke="#231f20" stroke-width="1.6"/>
<line x1="1353.7" y1="1654.0" x2="1353.7" y2="1665.3" stroke="#231f20" stroke-width="1.7" stroke-linecap="butt"/>
<line x1="1348.8" y1="1654.0" x2="1358.6" y2="1654.0" stroke="#231f20" stroke-width="1.7" stroke-linecap="butt"/>
<line x1="1348.8" y1="1665.3" x2="1358.6" y2="1665.3" stroke="#231f20" stroke-width="1.7" stroke-linecap="butt"/>
<rect x="1380.4" y="1791.7" width="34.4" height="106.4" fill="#fcdece" stroke="#231f20" stroke-width="1.6"/>
<line x1="1397.6" y1="1785.2" x2="1397.6" y2="1796.5" stroke="#231f20" stroke-width="1.7" stroke-linecap="butt"/>
<line x1="1392.7" y1="1785.2" x2="1402.5" y2="1785.2" stroke="#231f20" stroke-width="1.7" stroke-linecap="butt"/>
<line x1="1392.7" y1="1796.5" x2="1402.5" y2="1796.5" stroke="#231f20" stroke-width="1.7" stroke-linecap="butt"/>
<rect x="1424.4" y="1795.9" width="34.4" height="102.2" fill="#f37646" stroke="#231f20" stroke-width="1.6"/>
<line x1="1441.6" y1="1790.2" x2="1441.6" y2="1800.0" stroke="#231f20" stroke-width="1.7" stroke-linecap="butt"/>
<line x1="1436.7" y1="1790.2" x2="1446.5" y2="1790.2" stroke="#231f20" stroke-width="1.7" stroke-linecap="butt"/>
<line x1="1436.7" y1="1800.0" x2="1446.5" y2="1800.0" stroke="#231f20" stroke-width="1.7" stroke-linecap="butt"/>
<text transform="translate(543.1,1905.3) rotate(-90)" font-size="39.4" fill="#000" textLength="310.7" lengthAdjust="spacingAndGlyphs">Olive Tail Moment</text>
<text x="962.3" y="1568.6" font-size="36.2" fill="#000" textLength="204.2" lengthAdjust="spacingAndGlyphs">pH10 + FPG</text>
<line x1="671.5" y1="1652.3" x2="742.2" y2="1652.3" stroke="#000" stroke-width="2.6" stroke-linecap="butt"/>
<text transform="translate(708.4,1654.9) scale(0.8464,0.92)" class="st" font-size="36" text-anchor="middle" fill="#231f20" letter-spacing="-1">***</text>
<text transform="translate(763.5,1676.2) scale(0.95,1)" font-size="34.0" text-anchor="middle">ns</text>
<line x1="744.3" y1="1680.3" x2="783.3" y2="1680.3" stroke="#000" stroke-width="2.6" stroke-linecap="butt"/>
<line x1="779.1" y1="1650.7" x2="849.3" y2="1650.7" stroke="#000" stroke-width="2.6" stroke-linecap="butt"/>
<text transform="translate(815.7,1653.3) scale(0.8464,0.92)" class="st" font-size="36" text-anchor="middle" fill="#231f20" letter-spacing="-1">***</text>
<text transform="translate(848.2,1795.7) scale(0.95,1)" font-size="34.0" text-anchor="middle">ns</text>
<line x1="828.5" y1="1800.4" x2="868.0" y2="1800.4" stroke="#000" stroke-width="2.6" stroke-linecap="butt"/>
<line x1="1250.0" y1="1600.3" x2="1320.2" y2="1600.3" stroke="#000" stroke-width="2.6" stroke-linecap="butt"/>
<text transform="translate(1286.6,1602.9) scale(0.8464,0.92)" class="st" font-size="36" text-anchor="middle" fill="#231f20" letter-spacing="-1">***</text>
<text transform="translate(1336.8,1629.4) scale(0.95,1)" font-size="34.0" text-anchor="middle">ns</text>
<line x1="1317.0" y1="1634.0" x2="1357.6" y2="1634.0" stroke="#000" stroke-width="2.6" stroke-linecap="butt"/>
<line x1="1364.9" y1="1608.0" x2="1435.6" y2="1608.0" stroke="#000" stroke-width="2.6" stroke-linecap="butt"/>
<text transform="translate(1401.8,1610.6) scale(0.8464,0.92)" class="st" font-size="36" text-anchor="middle" fill="#231f20" letter-spacing="-1">***</text>
<text transform="translate(1420.0,1760.9) scale(0.95,1)" font-size="34.0" text-anchor="middle">ns</text>
<line x1="1400.7" y1="1766.0" x2="1439.7" y2="1766.0" stroke="#000" stroke-width="2.6" stroke-linecap="butt"/>
<text x="705.3" y="1932.4" font-size="34.8" textLength="124.7" lengthAdjust="spacingAndGlyphs">No H<tspan font-size="20.9" dy="3">2</tspan><tspan dy="-3">O</tspan><tspan font-size="20.9" dy="3">2</tspan></text>
<text transform="translate(1058.7,1933.8) scale(0.94,1)" font-size="34.8" text-anchor="middle">0′</text>
<text transform="translate(1345.4,1933.8) scale(0.94,1)" font-size="34.8" text-anchor="middle">45′</text>
<polyline points="935.6,1923.6 935.6,1958.4 1466.7,1958.4 1466.7,1923.6" fill="none" stroke="#58595b" stroke-width="1.5"/>
<text x="999.0" y="1987.0" font-size="34.8" textLength="389.8" lengthAdjust="spacingAndGlyphs">Recovery (min) after H<tspan font-size="20.9" dy="12">2</tspan><tspan dy="-12">O</tspan><tspan font-size="20.9" dy="12">2</tspan></text>
<rect x="1525.6" y="1312.9" width="37.5" height="35.5" fill="#4d4d4f" stroke="#231f20" stroke-width="1.8"/>
<rect x="1525.6" y="1375.4" width="37.5" height="37.9" fill="#d4e5e0" stroke="#231f20" stroke-width="1.8"/>
<rect x="1525.6" y="1439.4" width="37.5" height="37.9" fill="#00a59a" stroke="#231f20" stroke-width="1.8"/>
<rect x="1525.6" y="1502.7" width="37.5" height="37.9" fill="#fcdece" stroke="#231f20" stroke-width="1.8"/>
<rect x="1525.6" y="1566.2" width="37.5" height="37.9" fill="#f37646" stroke="#231f20" stroke-width="1.8"/>
<text x="1571.9" y="1339.6" font-size="32.2" fill="#000" textLength="125.9" lengthAdjust="spacingAndGlyphs">NT siRNA</text>
<text x="1571.9" y="1404.0" font-size="32.2" fill="#000" textLength="209.9" lengthAdjust="spacingAndGlyphs">BCL11A siRNA1</text>
<text x="1571.9" y="1470.9" font-size="32.2" fill="#000" textLength="212.0" lengthAdjust="spacingAndGlyphs">BCL11A siRNA2</text>
<text x="1571.9" y="1534.1" font-size="32.2" fill="#000" textLength="352.0" lengthAdjust="spacingAndGlyphs">BCL11A siRNA1 + BCL11A</text>
<text x="1925.4" y="1523.9" font-size="17.7" fill="#000" textLength="65.0" lengthAdjust="spacingAndGlyphs">160-520</text>
<text x="1571.9" y="1597.9" font-size="32.2" fill="#000" textLength="352.0" lengthAdjust="spacingAndGlyphs">BCL11A siRNA2 + BCL11A</text>
<text x="1925.4" y="1587.7" font-size="17.7" fill="#000" textLength="65.0" lengthAdjust="spacingAndGlyphs">160-520</text>
</g>
</svg></body></html>
